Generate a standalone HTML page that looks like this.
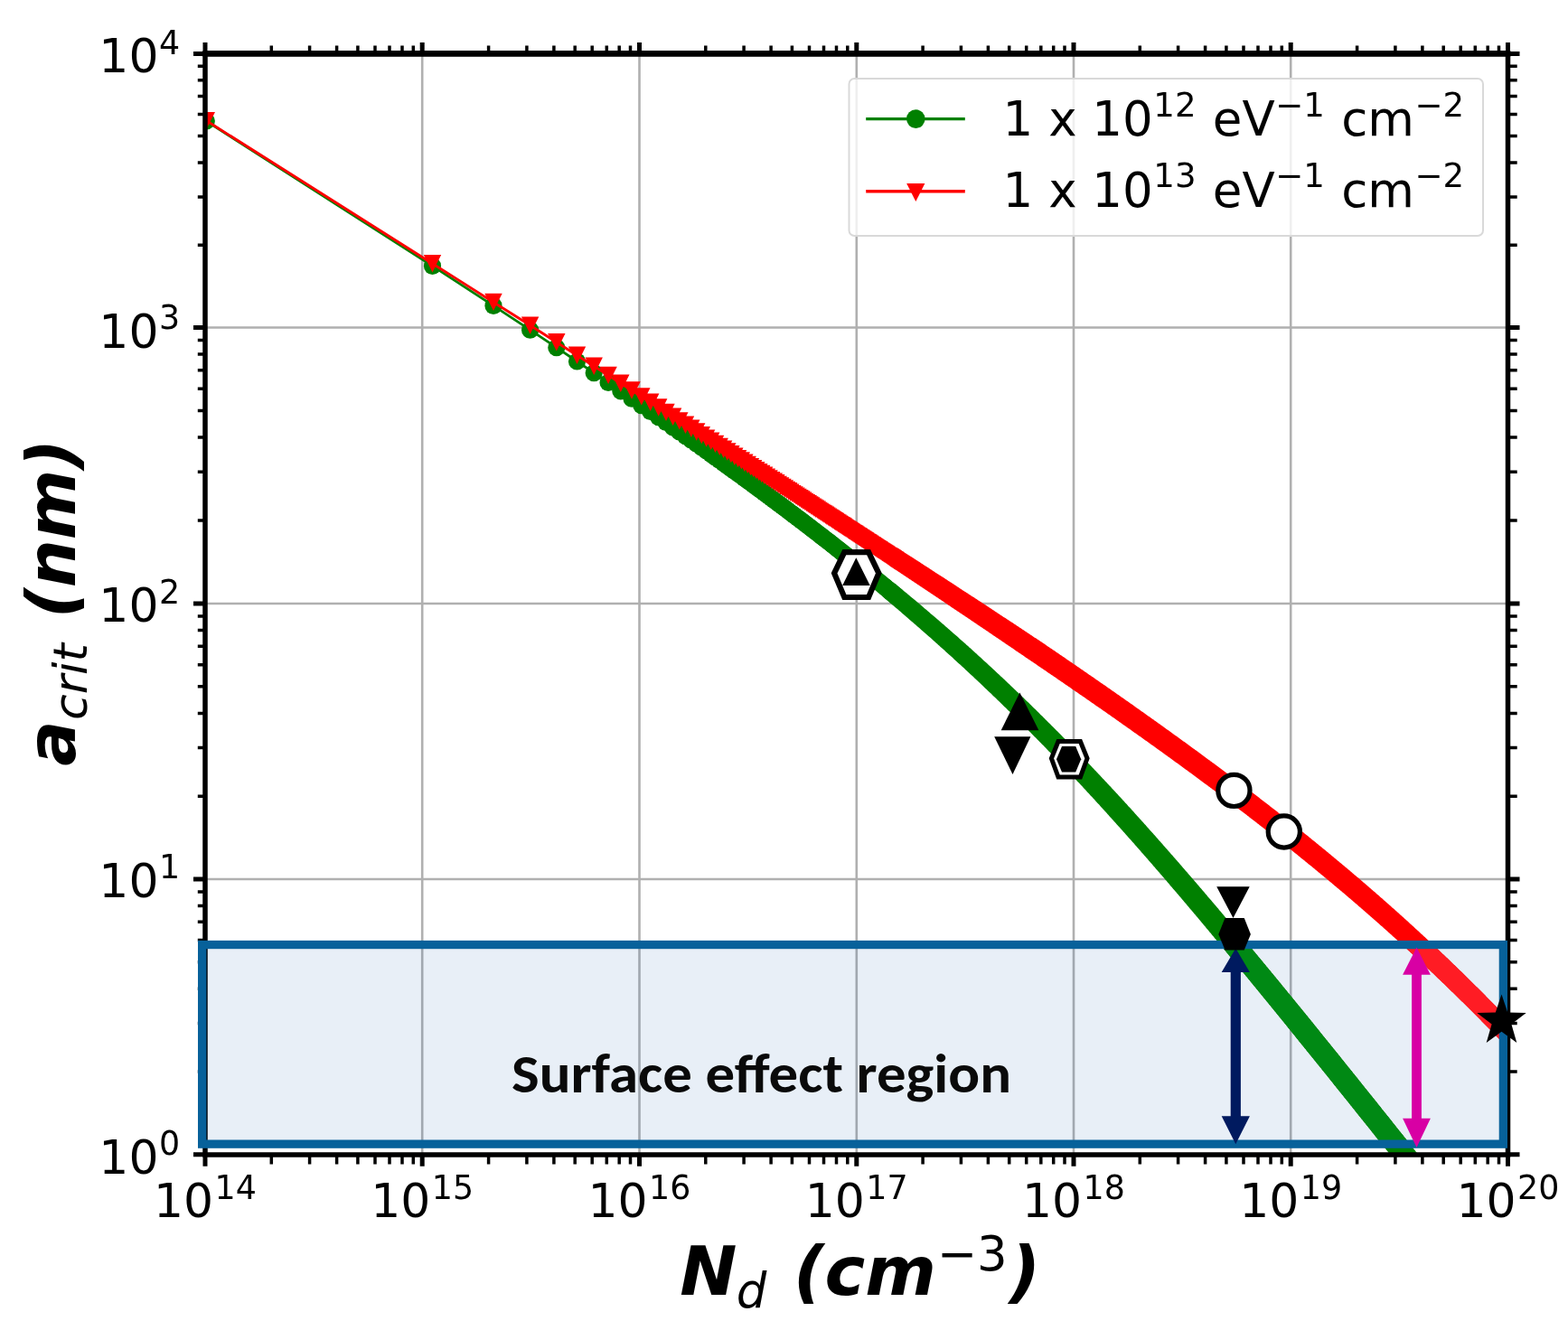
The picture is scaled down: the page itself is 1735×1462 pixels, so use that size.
<!DOCTYPE html>
<html><head><meta charset="utf-8"><title>acrit vs Nd</title><style>html,body{margin:0;padding:0;background:#fff;}svg{display:block;}</style></head><body>
<svg width="1735" height="1462" viewBox="0 0 1735 1462">
<defs><clipPath id="ax"><rect x="227.0" y="59.4" width="1441.5" height="1218.6"/></clipPath></defs>
<rect width="1735" height="1462" fill="#fff"/>
<path d="M467.2 59.4V1278.0M707.5 59.4V1278.0M947.8 59.4V1278.0M1188.0 59.4V1278.0M1428.2 59.4V1278.0M227.0 362.5H1668.5M227.0 668H1668.5M227.0 973H1668.5" stroke="#b0b0b0" stroke-width="2.6" fill="none"/>
<g clip-path="url(#ax)">
<polyline points="228.3,134.0 478.5,294.4 546.0,338.4 586.6,365.2 615.8,384.7 638.5,400.0 657.2,412.7 673.1,423.4 686.8,432.8 699.0,441.2 709.8,448.7 719.7,455.5 728.7,461.7 737.0,467.5 744.6,472.9 751.8,477.9 758.5,482.6 764.8,487.0 770.7,491.2 776.3,495.2 781.6,499.0 786.7,502.6 791.5,506.1 796.2,509.4 800.6,512.6 804.8,515.6 808.9,518.6 812.8,521.4 816.6,524.2 820.3,526.8 823.8,529.4 827.2,531.9 830.5,534.3 833.7,536.7 836.8,538.9 839.8,541.2 842.7,543.3 845.6,545.4 848.4,547.5 851.1,549.5 853.7,551.4 856.3,553.4 858.8,555.2 861.2,557.1 863.6,558.8 866.0,560.6 868.3,562.3 870.5,564.0 872.7,565.7 874.8,567.3 876.9,568.9 879.0,570.4 881.0,572.0 883.0,573.5 885.0,574.9 886.9,576.4 888.7,577.8 890.6,579.2 892.4,580.6 894.2,582.0 895.9,583.3 897.6,584.6 899.3,586.0 901.0,587.2 902.6,588.5 904.3,589.7 905.9,591.0 907.4,592.2 909.0,593.4 910.5,594.6 912.0,595.7 913.5,596.9 914.9,598.0 916.4,599.1 917.8,600.2 919.2,601.3 920.6,602.4 921.9,603.5 923.3,604.5 924.6,605.6 925.9,606.6 927.2,607.6 928.5,608.6 929.7,609.6 931.0,610.6 932.2,611.6 933.4,612.6 934.6,613.5 935.8,614.4 937.0,615.4 938.2,616.3 939.3,617.2 940.5,618.1 941.6,619.0 942.7,619.9 943.8,620.8 944.9,621.7 946.0,622.5 947.0,623.4 948.1,624.2 949.2,625.1 950.2,625.9 951.2,626.7 952.2,627.6 953.2,628.4 954.2,629.2 955.2,630.0 956.2,630.8 957.2,631.5 958.1,632.3 959.1,633.1 960.0,633.9 961.0,634.6 961.9,635.4 962.8,636.1 963.7,636.9 964.6,637.6 965.5,638.3 966.4,639.1 967.3,639.8 968.2,640.5 969.0,641.2 969.9,641.9 970.7,642.6 971.6,643.3 972.4,644.0 973.2,644.7 974.1,645.3 974.9,646.0 975.7,646.7 976.5,647.3 977.3,648.0 978.1,648.6 978.9,649.3 979.7,649.9 980.4,650.6 981.2,651.2 982.0,651.9 982.7,652.5 983.5,653.1 984.2,653.7 985.0,654.3 985.7,655.0 986.4,655.6 987.2,656.2 987.9,656.8 988.6,657.4 989.3,658.0 990.0,658.6 990.7,659.1 991.4,659.7" fill="none" stroke="#008000" stroke-width="2.8" stroke-linejoin="round"/>
<g fill="#008000"><circle cx="228.3" cy="134.0" r="9.6"/><circle cx="478.5" cy="294.4" r="9.6"/><circle cx="546.0" cy="338.4" r="9.6"/><circle cx="586.6" cy="365.2" r="9.6"/><circle cx="615.8" cy="384.7" r="9.6"/><circle cx="638.5" cy="400.0" r="9.6"/><circle cx="657.2" cy="412.7" r="9.6"/><circle cx="673.1" cy="423.4" r="9.6"/><circle cx="686.8" cy="432.8" r="9.6"/><circle cx="699.0" cy="441.2" r="9.6"/><circle cx="709.8" cy="448.7" r="9.6"/><circle cx="719.7" cy="455.5" r="9.6"/><circle cx="728.7" cy="461.7" r="9.6"/><circle cx="737.0" cy="467.5" r="9.6"/><circle cx="744.6" cy="472.9" r="9.6"/><circle cx="751.8" cy="477.9" r="9.6"/><circle cx="758.5" cy="482.6" r="9.6"/><circle cx="764.8" cy="487.0" r="9.6"/><circle cx="770.7" cy="491.2" r="9.6"/><circle cx="776.3" cy="495.2" r="9.6"/><circle cx="781.6" cy="499.0" r="9.6"/><circle cx="786.7" cy="502.6" r="9.6"/><circle cx="791.5" cy="506.1" r="9.6"/><circle cx="796.2" cy="509.4" r="9.6"/><circle cx="800.6" cy="512.6" r="9.6"/><circle cx="804.8" cy="515.6" r="9.6"/><circle cx="808.9" cy="518.6" r="9.6"/><circle cx="812.8" cy="521.4" r="9.6"/><circle cx="816.6" cy="524.2" r="9.6"/><circle cx="820.3" cy="526.8" r="9.6"/><circle cx="823.8" cy="529.4" r="9.6"/><circle cx="827.2" cy="531.9" r="9.6"/><circle cx="830.5" cy="534.3" r="9.6"/><circle cx="833.7" cy="536.7" r="9.6"/><circle cx="836.8" cy="538.9" r="9.6"/><circle cx="839.8" cy="541.2" r="9.6"/><circle cx="842.7" cy="543.3" r="9.6"/><circle cx="845.6" cy="545.4" r="9.6"/><circle cx="848.4" cy="547.5" r="9.6"/><circle cx="851.1" cy="549.5" r="9.6"/><circle cx="853.7" cy="551.4" r="9.6"/><circle cx="856.3" cy="553.4" r="9.6"/><circle cx="858.8" cy="555.2" r="9.6"/><circle cx="861.2" cy="557.1" r="9.6"/><circle cx="863.6" cy="558.8" r="9.6"/><circle cx="866.0" cy="560.6" r="9.6"/><circle cx="868.3" cy="562.3" r="9.6"/><circle cx="870.5" cy="564.0" r="9.6"/><circle cx="872.7" cy="565.7" r="9.6"/><circle cx="874.8" cy="567.3" r="9.6"/><circle cx="876.9" cy="568.9" r="9.6"/><circle cx="879.0" cy="570.4" r="9.6"/><circle cx="881.0" cy="572.0" r="9.6"/><circle cx="883.0" cy="573.5" r="9.6"/><circle cx="885.0" cy="574.9" r="9.6"/><circle cx="886.9" cy="576.4" r="9.6"/><circle cx="888.7" cy="577.8" r="9.6"/><circle cx="890.6" cy="579.2" r="9.6"/><circle cx="892.4" cy="580.6" r="9.6"/><circle cx="894.2" cy="582.0" r="9.6"/><circle cx="895.9" cy="583.3" r="9.6"/><circle cx="897.6" cy="584.6" r="9.6"/><circle cx="899.3" cy="586.0" r="9.6"/><circle cx="901.0" cy="587.2" r="9.6"/><circle cx="902.6" cy="588.5" r="9.6"/><circle cx="904.3" cy="589.7" r="9.6"/><circle cx="905.9" cy="591.0" r="9.6"/><circle cx="907.4" cy="592.2" r="9.6"/><circle cx="909.0" cy="593.4" r="9.6"/><circle cx="910.5" cy="594.6" r="9.6"/><circle cx="912.0" cy="595.7" r="9.6"/><circle cx="913.5" cy="596.9" r="9.6"/><circle cx="914.9" cy="598.0" r="9.6"/><circle cx="916.4" cy="599.1" r="9.6"/><circle cx="917.8" cy="600.2" r="9.6"/><circle cx="919.2" cy="601.3" r="9.6"/><circle cx="920.6" cy="602.4" r="9.6"/><circle cx="921.9" cy="603.5" r="9.6"/><circle cx="923.3" cy="604.5" r="9.6"/><circle cx="924.6" cy="605.6" r="9.6"/><circle cx="925.9" cy="606.6" r="9.6"/><circle cx="927.2" cy="607.6" r="9.6"/><circle cx="928.5" cy="608.6" r="9.6"/><circle cx="929.7" cy="609.6" r="9.6"/><circle cx="931.0" cy="610.6" r="9.6"/><circle cx="932.2" cy="611.6" r="9.6"/><circle cx="933.4" cy="612.6" r="9.6"/><circle cx="934.6" cy="613.5" r="9.6"/><circle cx="935.8" cy="614.4" r="9.6"/><circle cx="937.0" cy="615.4" r="9.6"/><circle cx="938.2" cy="616.3" r="9.6"/><circle cx="939.3" cy="617.2" r="9.6"/><circle cx="940.5" cy="618.1" r="9.6"/><circle cx="941.6" cy="619.0" r="9.6"/><circle cx="942.7" cy="619.9" r="9.6"/><circle cx="943.8" cy="620.8" r="9.6"/><circle cx="944.9" cy="621.7" r="9.6"/><circle cx="946.0" cy="622.5" r="9.6"/><circle cx="947.0" cy="623.4" r="9.6"/><circle cx="948.1" cy="624.2" r="9.6"/><circle cx="949.2" cy="625.1" r="9.6"/><circle cx="950.2" cy="625.9" r="9.6"/><circle cx="951.2" cy="626.7" r="9.6"/><circle cx="952.2" cy="627.6" r="9.6"/><circle cx="953.2" cy="628.4" r="9.6"/><circle cx="954.2" cy="629.2" r="9.6"/><circle cx="955.2" cy="630.0" r="9.6"/><circle cx="956.2" cy="630.8" r="9.6"/><circle cx="957.2" cy="631.5" r="9.6"/><circle cx="958.1" cy="632.3" r="9.6"/><circle cx="959.1" cy="633.1" r="9.6"/><circle cx="960.0" cy="633.9" r="9.6"/><circle cx="961.0" cy="634.6" r="9.6"/><circle cx="961.9" cy="635.4" r="9.6"/><circle cx="962.8" cy="636.1" r="9.6"/><circle cx="963.7" cy="636.9" r="9.6"/><circle cx="964.6" cy="637.6" r="9.6"/><circle cx="965.5" cy="638.3" r="9.6"/><circle cx="966.4" cy="639.1" r="9.6"/><circle cx="967.3" cy="639.8" r="9.6"/><circle cx="968.2" cy="640.5" r="9.6"/><circle cx="969.0" cy="641.2" r="9.6"/><circle cx="969.9" cy="641.9" r="9.6"/><circle cx="970.7" cy="642.6" r="9.6"/><circle cx="971.6" cy="643.3" r="9.6"/><circle cx="972.4" cy="644.0" r="9.6"/><circle cx="973.2" cy="644.7" r="9.6"/><circle cx="974.1" cy="645.3" r="9.6"/><circle cx="974.9" cy="646.0" r="9.6"/><circle cx="975.7" cy="646.7" r="9.6"/><circle cx="976.5" cy="647.3" r="9.6"/><circle cx="977.3" cy="648.0" r="9.6"/><circle cx="978.1" cy="648.6" r="9.6"/><circle cx="978.9" cy="649.3" r="9.6"/><circle cx="979.7" cy="649.9" r="9.6"/><circle cx="980.4" cy="650.6" r="9.6"/><circle cx="981.2" cy="651.2" r="9.6"/><circle cx="982.0" cy="651.9" r="9.6"/><circle cx="982.7" cy="652.5" r="9.6"/><circle cx="983.5" cy="653.1" r="9.6"/><circle cx="984.2" cy="653.7" r="9.6"/><circle cx="985.0" cy="654.3" r="9.6"/><circle cx="985.7" cy="655.0" r="9.6"/><circle cx="986.4" cy="655.6" r="9.6"/><circle cx="987.2" cy="656.2" r="9.6"/><circle cx="987.9" cy="656.8" r="9.6"/><circle cx="988.6" cy="657.4" r="9.6"/><circle cx="989.3" cy="658.0" r="9.6"/><circle cx="990.0" cy="658.6" r="9.6"/><circle cx="990.7" cy="659.1" r="9.6"/></g>
<polygon points="977.9,661.3 979.4,662.6 980.8,663.8 982.2,665.0 983.7,666.2 985.0,667.4 986.4,668.5 987.8,669.7 989.1,670.8 990.4,671.9 991.7,673.0 993.0,674.1 994.3,675.2 995.5,676.3 996.8,677.3 998.0,678.4 999.2,679.4 1000.4,680.5 1001.6,681.5 1002.7,682.5 1003.9,683.5 1005.0,684.5 1006.7,685.9 1008.4,687.4 1010.0,688.8 1011.6,690.2 1013.2,691.6 1014.8,692.9 1016.3,694.3 1017.8,695.6 1019.3,696.9 1020.8,698.2 1022.2,699.5 1023.7,700.7 1025.1,702.0 1026.5,703.2 1027.9,704.4 1029.2,705.6 1030.6,706.8 1031.9,708.0 1033.2,709.2 1034.5,710.3 1035.7,711.5 1037.0,712.6 1038.2,713.7 1039.5,714.8 1040.7,715.9 1041.9,717.0 1043.1,718.0 1044.2,719.1 1045.4,720.1 1046.5,721.2 1047.7,722.2 1048.8,723.2 1049.9,724.2 1051.4,725.5 1052.8,726.8 1054.2,728.1 1055.6,729.4 1057.0,730.7 1058.4,731.9 1059.7,733.2 1061.1,734.4 1062.4,735.6 1063.7,736.8 1065.0,738.0 1066.2,739.1 1067.5,740.3 1068.7,741.4 1069.9,742.6 1071.1,743.7 1072.3,744.8 1073.5,745.9 1074.7,747.0 1075.8,748.1 1077.0,749.1 1078.1,750.2 1079.2,751.2 1080.3,752.3 1081.4,753.3 1082.7,754.6 1084.1,755.8 1085.4,757.0 1086.7,758.3 1088.0,759.5 1089.2,760.7 1090.5,761.9 1091.7,763.1 1092.9,764.2 1094.2,765.4 1095.3,766.5 1096.5,767.6 1097.7,768.8 1098.8,769.9 1100.0,771.0 1101.1,772.0 1102.2,773.1 1103.3,774.2 1104.4,775.2 1105.5,776.3 1106.8,777.5 1108.0,778.8 1109.3,780.0 1110.5,781.2 1111.8,782.4 1113.0,783.6 1114.2,784.7 1115.3,785.9 1116.5,787.0 1117.7,788.1 1118.8,789.3 1119.9,790.4 1121.0,791.5 1122.1,792.6 1123.2,793.7 1124.3,794.7 1125.4,795.8 1126.6,797.0 1127.8,798.2 1129.0,799.4 1130.2,800.6 1131.4,801.8 1132.6,802.9 1133.7,804.1 1134.9,805.2 1136.0,806.4 1137.1,807.5 1138.2,808.6 1139.3,809.7 1140.4,810.8 1141.5,811.9 1142.5,812.9 1143.7,814.2 1144.9,815.4 1146.1,816.5 1147.2,817.7 1148.4,818.9 1149.5,820.0 1150.6,821.2 1151.7,822.3 1152.8,823.4 1153.9,824.5 1155.0,825.6 1156.0,826.7 1157.1,827.8 1158.2,829.0 1159.4,830.2 1160.5,831.4 1161.7,832.5 1162.8,833.7 1163.9,834.9 1165.0,836.0 1166.1,837.1 1167.1,838.2 1168.2,839.3 1169.3,840.4 1170.3,841.5 1171.4,842.7 1172.6,843.9 1173.7,845.1 1174.8,846.2 1175.9,847.4 1177.0,848.5 1178.0,849.6 1179.1,850.8 1180.2,851.9 1181.2,853.0 1182.2,854.1 1183.3,855.3 1184.5,856.4 1185.6,857.6 1186.6,858.7 1187.7,859.9 1188.8,861.0 1189.8,862.1 1190.9,863.3 1191.9,864.4 1192.9,865.5 1194.0,866.6 1195.1,867.8 1196.2,869.0 1197.3,870.1 1198.3,871.3 1199.4,872.4 1200.4,873.5 1201.4,874.6 1202.4,875.7 1203.5,876.9 1204.6,878.1 1205.7,879.2 1206.7,880.4 1207.8,881.5 1208.8,882.6 1209.8,883.7 1210.9,884.8 1211.9,886.0 1213.0,887.2 1214.1,888.4 1215.1,889.5 1216.2,890.6 1217.2,891.8 1218.2,892.9 1219.2,894.0 1220.3,895.2 1221.3,896.3 1222.4,897.5 1223.4,898.6 1224.5,899.8 1225.5,900.9 1226.5,902.0 1227.5,903.2 1228.6,904.4 1229.6,905.5 1230.7,906.7 1231.7,907.8 1232.7,908.9 1233.7,910.0 1234.8,911.2 1235.8,912.4 1236.8,913.5 1237.9,914.7 1238.9,915.8 1239.9,916.9 1240.9,918.1 1242.0,919.3 1243.0,920.4 1244.0,921.6 1245.1,922.7 1246.1,923.9 1247.1,925.0 1248.1,926.2 1249.2,927.4 1250.2,928.5 1251.2,929.6 1252.2,930.8 1253.2,931.9 1254.3,933.1 1255.3,934.3 1256.3,935.4 1257.3,936.5 1258.3,937.7 1259.3,938.8 1260.3,940.0 1261.3,941.1 1262.3,942.3 1263.3,943.4 1264.3,944.6 1265.4,945.7 1266.4,946.9 1267.4,948.0 1268.4,949.2 1269.4,950.3 1270.4,951.5 1271.4,952.7 1272.4,953.8 1273.4,954.9 1274.4,956.1 1275.4,957.3 1276.4,958.4 1277.4,959.6 1278.4,960.7 1279.4,961.9 1280.4,963.1 1281.4,964.2 1282.4,965.3 1283.4,966.5 1284.4,967.7 1285.4,968.8 1286.4,970.0 1287.4,971.1 1288.4,972.3 1289.4,973.4 1290.4,974.6 1291.4,975.8 1292.4,976.9 1293.4,978.1 1294.3,979.2 1295.3,980.4 1296.3,981.6 1297.3,982.7 1298.3,983.9 1299.3,985.0 1300.3,986.2 1301.3,987.3 1302.2,988.5 1303.2,989.6 1304.2,990.8 1305.2,991.9 1306.2,993.1 1307.2,994.3 1308.2,995.4 1309.1,996.6 1310.1,997.7 1311.1,998.9 1312.1,1000.1 1313.1,1001.2 1314.1,1002.4 1315.0,1003.5 1316.0,1004.7 1317.0,1005.9 1318.0,1007.0 1319.0,1008.2 1319.9,1009.3 1320.9,1010.5 1321.9,1011.7 1322.9,1012.8 1323.8,1014.0 1324.8,1015.1 1325.8,1016.3 1326.8,1017.4 1327.7,1018.6 1328.7,1019.8 1329.7,1020.9 1330.6,1022.1 1331.6,1023.2 1332.6,1024.4 1333.6,1025.6 1334.5,1026.7 1335.5,1027.9 1336.5,1029.1 1337.5,1030.2 1338.4,1031.4 1339.4,1032.5 1340.4,1033.7 1341.3,1034.9 1342.3,1036.0 1343.3,1037.2 1344.2,1038.4 1345.2,1039.5 1346.2,1040.7 1347.2,1041.9 1348.1,1043.0 1349.1,1044.2 1350.0,1045.3 1351.0,1046.5 1352.0,1047.7 1353.0,1048.8 1353.9,1050.0 1354.9,1051.2 1355.9,1052.3 1356.8,1053.5 1357.8,1054.7 1358.7,1055.8 1359.7,1057.0 1360.7,1058.2 1361.6,1059.3 1362.6,1060.5 1363.6,1061.7 1364.5,1062.8 1365.5,1064.0 1366.5,1065.2 1367.4,1066.3 1368.4,1067.5 1369.3,1068.7 1370.3,1069.8 1371.3,1071.0 1372.2,1072.2 1373.2,1073.4 1374.1,1074.5 1375.1,1075.7 1376.1,1076.9 1377.0,1078.0 1378.0,1079.2 1378.9,1080.4 1379.9,1081.5 1380.9,1082.7 1381.8,1083.9 1382.8,1085.0 1383.7,1086.2 1384.7,1087.4 1385.6,1088.5 1386.6,1089.7 1387.5,1090.9 1388.5,1092.0 1389.5,1093.2 1390.4,1094.4 1391.4,1095.5 1392.3,1096.7 1393.3,1097.9 1394.2,1099.1 1395.2,1100.2 1396.1,1101.4 1397.1,1102.6 1398.0,1103.7 1399.0,1104.9 1400.0,1106.1 1400.9,1107.3 1401.9,1108.4 1402.8,1109.6 1403.8,1110.8 1404.7,1111.9 1405.7,1113.1 1406.6,1114.3 1407.6,1115.5 1408.5,1116.6 1409.5,1117.8 1410.4,1119.0 1411.4,1120.1 1412.3,1121.3 1413.3,1122.5 1414.2,1123.6 1415.2,1124.8 1416.1,1126.0 1417.1,1127.1 1418.0,1128.3 1419.0,1129.5 1419.9,1130.6 1420.9,1131.8 1421.8,1133.0 1422.8,1134.1 1423.7,1135.3 1424.7,1136.5 1425.6,1137.7 1426.6,1138.8 1427.5,1140.0 1428.5,1141.2 1429.4,1142.3 1430.4,1143.5 1431.3,1144.7 1432.3,1145.8 1433.2,1147.0 1434.2,1148.2 1435.1,1149.4 1436.1,1150.5 1437.0,1151.7 1437.9,1152.9 1438.9,1154.0 1439.8,1155.2 1440.8,1156.4 1441.7,1157.5 1442.7,1158.7 1443.6,1159.9 1444.6,1161.0 1445.5,1162.2 1446.4,1163.4 1447.4,1164.5 1448.3,1165.7 1449.3,1166.9 1450.2,1168.0 1451.2,1169.2 1452.1,1170.4 1453.1,1171.6 1454.0,1172.7 1455.0,1173.9 1455.9,1175.1 1456.8,1176.2 1457.8,1177.4 1458.7,1178.6 1459.7,1179.8 1460.6,1180.9 1461.6,1182.1 1462.5,1183.3 1463.4,1184.4 1464.4,1185.6 1465.3,1186.8 1466.3,1188.0 1467.2,1189.1 1468.2,1190.3 1469.1,1191.5 1470.0,1192.6 1471.0,1193.8 1471.9,1195.0 1472.9,1196.2 1473.8,1197.3 1474.8,1198.5 1475.7,1199.7 1476.6,1200.9 1477.6,1202.0 1478.5,1203.2 1479.5,1204.4 1480.4,1205.5 1481.3,1206.7 1482.3,1207.9 1483.2,1209.1 1484.2,1210.2 1485.1,1211.4 1486.1,1212.6 1487.0,1213.8 1487.9,1214.9 1488.9,1216.1 1489.8,1217.3 1490.8,1218.5 1491.7,1219.6 1492.6,1220.8 1493.6,1222.0 1494.5,1223.2 1495.5,1224.3 1496.4,1225.5 1497.3,1226.7 1498.3,1227.8 1499.2,1229.0 1500.2,1230.2 1501.1,1231.4 1502.0,1232.5 1503.0,1233.7 1503.9,1234.9 1504.8,1236.1 1505.8,1237.2 1506.7,1238.4 1507.7,1239.6 1508.6,1240.8 1509.5,1241.9 1510.5,1243.1 1511.4,1244.3 1512.4,1245.4 1513.3,1246.6 1514.2,1247.8 1515.2,1249.0 1516.1,1250.1 1517.0,1251.3 1518.0,1252.5 1518.9,1253.7 1519.9,1254.8 1520.8,1256.0 1521.7,1257.2 1522.7,1258.4 1523.6,1259.5 1524.5,1260.7 1525.5,1261.9 1526.4,1263.1 1527.4,1264.2 1528.3,1265.4 1529.2,1266.6 1530.2,1267.8 1531.1,1268.9 1532.0,1270.1 1533.0,1271.3 1533.9,1272.5 1534.8,1273.6 1535.8,1274.8 1536.7,1276.0 1537.7,1277.2 1538.6,1278.3 1539.5,1279.5 1540.5,1280.7 1541.4,1281.9 1542.3,1283.0 1543.3,1284.2 1544.2,1285.4 1545.1,1286.6 1546.1,1287.7 1547.0,1288.9 1547.9,1290.1 1548.9,1291.3 1549.8,1292.4 1550.7,1293.6 1551.7,1294.8 1552.6,1296.0 1553.6,1297.1 1554.5,1298.3 1555.4,1299.5 1556.4,1300.7 1557.3,1301.8 1558.2,1303.0 1559.2,1304.2 1560.1,1305.4 1561.0,1306.6 1562.0,1307.7 1562.9,1308.9 1563.8,1310.1 1564.8,1311.3 1565.7,1312.4 1566.6,1313.6 1567.6,1314.8 1568.5,1316.0 1569.4,1317.1 1570.4,1318.3 1571.3,1319.5 1572.3,1320.7 1573.2,1321.8 1574.1,1323.0 1575.1,1324.2 1576.0,1325.4 1576.9,1326.5 1577.9,1327.7 1578.8,1328.9 1579.7,1330.1 1580.7,1331.2 1581.6,1332.4 1582.5,1333.6 1583.5,1334.8 1584.4,1335.9 1585.3,1337.1 1586.3,1338.3 1587.2,1339.5 1588.1,1340.7 1589.1,1341.8 1590.0,1343.0 1590.9,1344.2 1591.8,1345.4 1592.8,1346.5 1593.7,1347.7 1594.6,1348.9 1595.6,1350.1 1596.5,1351.2 1597.4,1352.4 1598.4,1353.6 1599.3,1354.8 1600.2,1355.9 1601.2,1357.1 1602.1,1358.3 1603.0,1359.5 1604.0,1360.6 1604.9,1361.8 1605.8,1363.0 1606.8,1364.2 1607.7,1365.3 1608.6,1366.5 1609.6,1367.7 1610.5,1368.9 1611.4,1370.1 1612.4,1371.2 1613.3,1372.4 1614.2,1373.6 1615.2,1374.8 1616.1,1375.9 1617.0,1377.1 1618.0,1378.3 1618.9,1379.5 1619.8,1380.6 1620.8,1381.8 1621.7,1383.0 1622.6,1384.2 1623.5,1385.3 1624.5,1386.5 1625.4,1387.7 1626.3,1388.9 1627.3,1390.1 1628.2,1391.2 1629.1,1392.4 1630.1,1393.6 1631.0,1394.8 1631.9,1395.9 1632.9,1397.1 1633.8,1398.3 1634.7,1399.5 1635.7,1400.6 1636.6,1401.8 1637.5,1403.0 1638.5,1404.2 1639.4,1405.4 1640.3,1406.5 1641.2,1407.7 1642.2,1408.9 1643.1,1410.1 1644.0,1411.2 1645.0,1412.4 1645.9,1413.6 1646.8,1414.8 1647.8,1415.9 1648.7,1417.1 1649.6,1418.3 1650.6,1419.5 1651.5,1420.7 1652.4,1421.8 1653.4,1423.0 1654.3,1424.2 1655.2,1425.4 1656.1,1426.5 1657.1,1427.7 1658.0,1428.9 1658.9,1430.1 1659.9,1431.2 1679.0,1416.1 1678.1,1414.9 1677.1,1413.8 1676.2,1412.6 1675.3,1411.4 1674.4,1410.2 1673.4,1409.0 1672.5,1407.9 1671.6,1406.7 1670.6,1405.5 1669.7,1404.3 1668.8,1403.2 1667.8,1402.0 1666.9,1400.8 1666.0,1399.6 1665.0,1398.5 1664.1,1397.3 1663.2,1396.1 1662.2,1394.9 1661.3,1393.7 1660.4,1392.6 1659.4,1391.4 1658.5,1390.2 1657.6,1389.0 1656.7,1387.9 1655.7,1386.7 1654.8,1385.5 1653.9,1384.3 1652.9,1383.1 1652.0,1382.0 1651.1,1380.8 1650.1,1379.6 1649.2,1378.4 1648.3,1377.3 1647.3,1376.1 1646.4,1374.9 1645.5,1373.7 1644.5,1372.6 1643.6,1371.4 1642.7,1370.2 1641.7,1369.0 1640.8,1367.8 1639.9,1366.7 1638.9,1365.5 1638.0,1364.3 1637.1,1363.1 1636.1,1362.0 1635.2,1360.8 1634.3,1359.6 1633.4,1358.4 1632.4,1357.3 1631.5,1356.1 1630.6,1354.9 1629.6,1353.7 1628.7,1352.5 1627.8,1351.4 1626.8,1350.2 1625.9,1349.0 1625.0,1347.8 1624.0,1346.7 1623.1,1345.5 1622.2,1344.3 1621.2,1343.1 1620.3,1342.0 1619.4,1340.8 1618.4,1339.6 1617.5,1338.4 1616.6,1337.3 1615.6,1336.1 1614.7,1334.9 1613.8,1333.7 1612.8,1332.5 1611.9,1331.4 1611.0,1330.2 1610.0,1329.0 1609.1,1327.8 1608.2,1326.7 1607.2,1325.5 1606.3,1324.3 1605.4,1323.1 1604.4,1322.0 1603.5,1320.8 1602.6,1319.6 1601.6,1318.4 1600.7,1317.2 1599.8,1316.1 1598.8,1314.9 1597.9,1313.7 1597.0,1312.5 1596.0,1311.4 1595.1,1310.2 1594.2,1309.0 1593.2,1307.8 1592.3,1306.7 1591.4,1305.5 1590.4,1304.3 1589.5,1303.1 1588.6,1302.0 1587.6,1300.8 1586.7,1299.6 1585.7,1298.4 1584.8,1297.3 1583.9,1296.1 1582.9,1294.9 1582.0,1293.7 1581.1,1292.5 1580.1,1291.4 1579.2,1290.2 1578.3,1289.0 1577.3,1287.8 1576.4,1286.7 1575.5,1285.5 1574.5,1284.3 1573.6,1283.1 1572.6,1281.9 1571.7,1280.8 1570.8,1279.6 1569.8,1278.4 1568.9,1277.2 1568.0,1276.1 1567.0,1274.9 1566.1,1273.7 1565.2,1272.5 1564.2,1271.4 1563.3,1270.2 1562.4,1269.0 1561.4,1267.8 1560.5,1266.7 1559.5,1265.5 1558.6,1264.3 1557.7,1263.1 1556.7,1262.0 1555.8,1260.8 1554.9,1259.6 1553.9,1258.4 1553.0,1257.3 1552.1,1256.1 1551.1,1254.9 1550.2,1253.7 1549.2,1252.6 1548.3,1251.4 1547.4,1250.2 1546.4,1249.0 1545.5,1247.9 1544.6,1246.7 1543.6,1245.5 1542.7,1244.3 1541.7,1243.2 1540.8,1242.0 1539.9,1240.8 1538.9,1239.6 1538.0,1238.5 1537.1,1237.3 1536.1,1236.1 1535.2,1234.9 1534.2,1233.7 1533.3,1232.6 1532.4,1231.4 1531.4,1230.2 1530.5,1229.0 1529.5,1227.9 1528.6,1226.7 1527.7,1225.5 1526.7,1224.3 1525.8,1223.2 1524.8,1222.0 1523.9,1220.8 1523.0,1219.6 1522.0,1218.5 1521.1,1217.3 1520.1,1216.1 1519.2,1214.9 1518.3,1213.8 1517.3,1212.6 1516.4,1211.4 1515.4,1210.2 1514.5,1209.1 1513.6,1207.9 1512.6,1206.7 1511.7,1205.5 1510.7,1204.4 1509.8,1203.2 1508.9,1202.0 1507.9,1200.9 1507.0,1199.7 1506.0,1198.5 1505.1,1197.3 1504.1,1196.2 1503.2,1195.0 1502.3,1193.8 1501.3,1192.6 1500.4,1191.5 1499.4,1190.3 1498.5,1189.1 1497.5,1187.9 1496.6,1186.8 1495.7,1185.6 1494.7,1184.4 1493.8,1183.2 1492.8,1182.1 1491.9,1180.9 1490.9,1179.7 1490.0,1178.5 1489.1,1177.4 1488.1,1176.2 1487.2,1175.0 1486.2,1173.8 1485.3,1172.7 1484.3,1171.5 1483.4,1170.3 1482.5,1169.1 1481.5,1168.0 1480.6,1166.8 1479.6,1165.6 1478.7,1164.5 1477.7,1163.3 1476.8,1162.1 1475.8,1160.9 1474.9,1159.8 1473.9,1158.6 1473.0,1157.4 1472.1,1156.2 1471.1,1155.1 1470.2,1153.9 1469.2,1152.7 1468.3,1151.5 1467.3,1150.4 1466.4,1149.2 1465.4,1148.0 1464.5,1146.9 1463.5,1145.7 1462.6,1144.5 1461.6,1143.4 1460.7,1142.2 1459.8,1141.0 1458.8,1139.8 1457.9,1138.7 1456.9,1137.5 1456.0,1136.3 1455.0,1135.2 1454.1,1134.0 1453.1,1132.8 1452.2,1131.6 1451.2,1130.5 1450.3,1129.3 1449.3,1128.1 1448.4,1127.0 1447.4,1125.8 1446.5,1124.6 1445.5,1123.4 1444.6,1122.3 1443.6,1121.1 1442.7,1119.9 1441.7,1118.8 1440.8,1117.6 1439.8,1116.4 1438.9,1115.3 1437.9,1114.1 1436.9,1112.9 1436.0,1111.7 1435.0,1110.6 1434.1,1109.4 1433.1,1108.2 1432.2,1107.1 1431.2,1105.9 1430.3,1104.7 1429.3,1103.5 1428.4,1102.4 1427.4,1101.2 1426.5,1100.0 1425.5,1098.9 1424.5,1097.7 1423.6,1096.5 1422.6,1095.4 1421.7,1094.2 1420.7,1093.0 1419.7,1091.9 1418.8,1090.7 1417.8,1089.5 1416.9,1088.3 1415.9,1087.2 1414.9,1086.0 1414.0,1084.8 1413.0,1083.7 1412.0,1082.5 1411.1,1081.3 1410.1,1080.2 1409.2,1079.0 1408.2,1077.8 1407.2,1076.7 1406.3,1075.5 1405.3,1074.3 1404.3,1073.2 1403.4,1072.0 1402.4,1070.8 1401.4,1069.7 1400.5,1068.5 1399.5,1067.3 1398.5,1066.2 1397.6,1065.0 1396.6,1063.8 1395.7,1062.7 1394.7,1061.5 1393.7,1060.3 1392.7,1059.2 1391.8,1058.0 1390.8,1056.8 1389.8,1055.7 1388.9,1054.5 1387.9,1053.3 1386.9,1052.2 1386.0,1051.0 1385.0,1049.8 1384.0,1048.7 1383.0,1047.5 1382.1,1046.3 1381.1,1045.2 1380.1,1044.0 1379.1,1042.8 1378.2,1041.7 1377.2,1040.5 1376.2,1039.3 1375.2,1038.2 1374.3,1037.0 1373.3,1035.8 1372.3,1034.7 1371.4,1033.5 1370.4,1032.3 1369.4,1031.2 1368.4,1030.0 1367.4,1028.8 1366.5,1027.7 1365.5,1026.5 1364.5,1025.4 1363.5,1024.2 1362.6,1023.0 1361.6,1021.9 1360.6,1020.7 1359.6,1019.5 1358.6,1018.4 1357.7,1017.2 1356.7,1016.0 1355.7,1014.9 1354.7,1013.7 1353.7,1012.6 1352.8,1011.4 1351.8,1010.2 1350.8,1009.1 1349.8,1007.9 1348.8,1006.7 1347.9,1005.6 1346.9,1004.4 1345.9,1003.3 1344.9,1002.1 1343.9,1001.0 1342.9,999.8 1342.0,998.7 1341.0,997.5 1340.0,996.3 1339.0,995.2 1338.0,994.0 1337.0,992.9 1336.0,991.7 1335.1,990.6 1334.1,989.4 1333.1,988.2 1332.1,987.1 1331.1,985.9 1330.1,984.7 1329.1,983.6 1328.1,982.4 1327.1,981.3 1326.1,980.1 1325.1,979.0 1324.1,977.8 1323.1,976.6 1322.1,975.5 1321.1,974.3 1320.1,973.1 1319.1,972.0 1318.2,970.9 1317.2,969.7 1316.1,968.5 1315.2,967.4 1314.2,966.2 1313.2,965.1 1312.1,963.9 1311.1,962.7 1310.1,961.6 1309.1,960.4 1308.1,959.3 1307.1,958.1 1306.1,957.0 1305.1,955.8 1304.1,954.6 1303.1,953.5 1302.1,952.3 1301.1,951.2 1300.1,950.0 1299.1,948.9 1298.1,947.7 1297.1,946.6 1296.0,945.4 1295.0,944.2 1294.0,943.1 1293.0,941.9 1292.0,940.8 1290.9,939.6 1289.9,938.4 1288.9,937.3 1287.9,936.2 1286.9,935.0 1285.9,933.8 1284.9,932.7 1283.9,931.5 1282.8,930.4 1281.8,929.2 1280.8,928.0 1279.8,926.9 1278.8,925.8 1277.7,924.6 1276.7,923.5 1275.7,922.3 1274.7,921.2 1273.6,920.0 1272.6,918.9 1271.6,917.7 1270.5,916.6 1269.5,915.4 1268.5,914.2 1267.5,913.1 1266.4,912.0 1265.4,910.8 1264.3,909.6 1263.3,908.4 1262.3,907.3 1261.2,906.2 1260.2,905.0 1259.2,903.9 1258.1,902.7 1257.0,901.5 1256.0,900.4 1255.0,899.3 1254.0,898.1 1252.9,897.0 1251.9,895.8 1250.8,894.6 1249.8,893.5 1248.7,892.4 1247.7,891.2 1246.7,890.1 1245.6,888.9 1244.5,887.8 1243.5,886.6 1242.4,885.5 1241.4,884.3 1240.4,883.2 1239.3,882.1 1238.2,880.9 1237.2,879.7 1236.1,878.6 1235.0,877.4 1234.0,876.3 1233.0,875.2 1231.9,874.1 1230.8,872.9 1229.8,871.8 1228.7,870.6 1227.6,869.4 1226.5,868.3 1225.5,867.2 1224.5,866.0 1223.4,864.9 1222.3,863.8 1221.2,862.6 1220.1,861.4 1219.0,860.3 1218.0,859.2 1217.0,858.0 1215.9,856.9 1214.8,855.8 1213.8,854.7 1212.7,853.5 1211.6,852.4 1210.5,851.2 1209.3,850.0 1208.3,848.9 1207.3,847.8 1206.2,846.7 1205.1,845.6 1204.0,844.4 1203.0,843.3 1201.9,842.1 1200.7,841.0 1199.6,839.8 1198.5,838.6 1197.4,837.5 1196.4,836.4 1195.3,835.3 1194.2,834.2 1193.1,833.1 1192.0,831.9 1190.9,830.8 1189.8,829.6 1188.6,828.4 1187.5,827.2 1186.3,826.0 1185.3,825.0 1184.2,823.9 1183.1,822.8 1182.0,821.6 1180.9,820.5 1179.8,819.4 1178.7,818.2 1177.6,817.1 1176.4,815.9 1175.3,814.7 1174.1,813.5 1172.9,812.3 1171.8,811.2 1170.7,810.1 1169.6,809.0 1168.5,807.9 1167.4,806.8 1166.3,805.7 1165.2,804.5 1164.0,803.4 1162.9,802.2 1161.7,801.0 1160.5,799.9 1159.3,798.7 1158.1,797.4 1157.0,796.4 1155.9,795.3 1154.8,794.2 1153.7,793.1 1152.6,792.0 1151.4,790.9 1150.3,789.7 1149.1,788.6 1148.0,787.4 1146.8,786.3 1145.6,785.1 1144.4,783.9 1143.1,782.7 1141.9,781.5 1140.7,780.3 1139.6,779.2 1138.5,778.1 1137.3,777.1 1136.2,776.0 1135.1,774.9 1133.9,773.8 1132.8,772.6 1131.6,771.5 1130.4,770.4 1129.2,769.2 1128.0,768.0 1126.8,766.8 1125.5,765.7 1124.3,764.5 1123.0,763.2 1121.7,762.0 1120.4,760.8 1119.3,759.7 1118.2,758.7 1117.1,757.6 1115.9,756.5 1114.8,755.4 1113.6,754.3 1112.5,753.2 1111.3,752.1 1110.1,751.0 1108.9,749.8 1107.6,748.7 1106.4,747.5 1105.1,746.3 1103.9,745.2 1102.6,744.0 1101.3,742.7 1100.0,741.5 1098.6,740.3 1097.3,739.0 1095.9,737.7 1094.8,736.7 1093.7,735.7 1092.5,734.6 1091.4,733.6 1090.2,732.5 1089.0,731.4 1087.9,730.4 1086.7,729.3 1085.4,728.1 1084.2,727.0 1083.0,725.9 1081.7,724.8 1080.5,723.6 1079.2,722.4 1077.9,721.2 1076.5,720.1 1075.2,718.8 1073.9,717.6 1072.5,716.4 1071.1,715.1 1069.7,713.9 1068.3,712.6 1066.8,711.3 1065.4,710.0 1063.9,708.7 1062.7,707.7 1061.6,706.7 1060.4,705.6 1059.3,704.6 1058.1,703.6 1056.9,702.5 1055.7,701.4 1054.5,700.4 1053.2,699.3 1052.0,698.2 1050.7,697.1 1049.4,696.0 1048.1,694.8 1046.8,693.7 1045.5,692.5 1044.2,691.3 1042.8,690.2 1041.4,689.0 1040.0,687.8 1038.6,686.5 1037.1,685.3 1035.7,684.0 1034.2,682.8 1032.7,681.5 1031.2,680.2 1029.6,678.9 1028.1,677.5 1026.5,676.2 1024.9,674.8 1023.2,673.4 1021.6,672.0 1019.9,670.5 1018.1,669.1 1017.0,668.1 1015.8,667.1 1014.6,666.1 1013.4,665.1 1012.2,664.1 1011.0,663.1 1009.7,662.0 1008.5,661.0 1007.2,659.9 1005.9,658.8 1004.6,657.7 1003.3,656.6 1001.9,655.5 1000.6,654.4 999.2,653.3 997.8,652.1 996.4,650.9 995.0,649.8 993.5,648.6 992.0,647.3 990.6,646.1" fill="#008000"/><circle cx="984.2" cy="653.7" r="9.9" fill="#008000"/>
<polyline points="228.3,133.6 478.5,291.7 546.0,334.4 586.6,360.1 615.8,378.7 638.5,393.3 657.2,405.2 673.1,415.4 686.8,424.2 699.0,432.0 709.8,438.9 719.7,445.3 728.7,451.0 737.0,456.4 744.6,461.3 751.8,465.9 758.5,470.2 764.8,474.2 770.7,478.0 776.3,481.6 781.6,485.1 786.7,488.3 791.5,491.4 796.2,494.4 800.6,497.3 804.8,500.0 808.9,502.6 812.8,505.2 816.6,507.6 820.3,509.9 823.8,512.2 827.2,514.4 830.5,516.6 833.7,518.6 836.8,520.6 839.8,522.6 842.7,524.5 845.6,526.3 848.4,528.1 851.1,529.9 853.7,531.6 856.3,533.2 858.8,534.8 861.2,536.4 863.6,538.0 866.0,539.5 868.3,541.0 870.5,542.4 872.7,543.8 874.8,545.2 876.9,546.6 879.0,547.9 881.0,549.2 883.0,550.5 885.0,551.8 886.9,553.0 888.7,554.2 890.6,555.4 892.4,556.6 894.2,557.8 895.9,558.9 897.6,560.0 899.3,561.1 901.0,562.2 902.6,563.3 904.3,564.3 905.9,565.4 907.4,566.4 909.0,567.4 910.5,568.4 912.0,569.3 913.5,570.3 914.9,571.3 916.4,572.2 917.8,573.1 919.2,574.0 920.6,574.9 921.9,575.8 923.3,576.7 924.6,577.5 925.9,578.4 927.2,579.2 928.5,580.1 929.7,580.9 931.0,581.7 932.2,582.5 933.4,583.3 934.6,584.1 935.8,584.9 937.0,585.6 938.2,586.4 939.3,587.2 940.5,587.9 941.6,588.6 942.7,589.4 943.8,590.1 944.9,590.8 946.0,591.5 947.0,592.2 948.1,592.9 949.2,593.6 950.2,594.2 951.2,594.9 952.2,595.6 953.2,596.2 954.2,596.9 955.2,597.5 956.2,598.2 957.2,598.8 958.1,599.4 959.1,600.1 960.0,600.7 961.0,601.3 961.9,601.9 962.8,602.5 963.7,603.1 964.6,603.7 965.5,604.3 966.4,604.9 967.3,605.4 968.2,606.0 969.0,606.6 969.9,607.1 970.7,607.7 971.6,608.2 972.4,608.8 973.2,609.3 974.1,609.9 974.9,610.4 975.7,610.9 976.5,611.5 977.3,612.0 978.1,612.5 978.9,613.0 979.7,613.5 980.4,614.0 981.2,614.5 982.0,615.1 982.7,615.5 983.5,616.0 984.2,616.5 985.0,617.0 985.7,617.5 986.4,618.0 987.2,618.5 987.9,618.9 988.6,619.4 989.3,619.9 990.0,620.3 990.7,620.8 991.4,621.3" fill="none" stroke="#ff0000" stroke-width="2.9" stroke-linejoin="round"/>
<path fill="#ff0000" d="M218.6 123.9H238.0L228.3 143.3ZM468.8 282.0H488.2L478.5 301.4ZM536.3 324.7H555.7L546.0 344.1ZM576.9 350.4H596.3L586.6 369.8ZM606.1 369.0H625.5L615.8 388.4ZM628.8 383.6H648.2L638.5 403.0ZM647.5 395.5H666.9L657.2 414.9ZM663.4 405.7H682.8L673.1 425.1ZM677.1 414.5H696.5L686.8 433.9ZM689.3 422.3H708.7L699.0 441.7ZM700.1 429.2H719.5L709.8 448.6ZM710.0 435.6H729.4L719.7 455.0ZM719.0 441.3H738.4L728.7 460.7ZM727.3 446.7H746.7L737.0 466.1ZM734.9 451.6H754.3L744.6 471.0ZM742.1 456.2H761.5L751.8 475.6ZM748.8 460.5H768.2L758.5 479.9ZM755.1 464.5H774.5L764.8 483.9ZM761.0 468.3H780.4L770.7 487.7ZM766.6 471.9H786.0L776.3 491.3ZM771.9 475.4H791.3L781.6 494.8ZM777.0 478.6H796.4L786.7 498.0ZM781.8 481.7H801.2L791.5 501.1ZM786.5 484.7H805.9L796.2 504.1ZM790.9 487.6H810.3L800.6 507.0ZM795.1 490.3H814.5L804.8 509.7ZM799.2 492.9H818.6L808.9 512.3ZM803.1 495.5H822.5L812.8 514.9ZM806.9 497.9H826.3L816.6 517.3ZM810.6 500.2H830.0L820.3 519.6ZM814.1 502.5H833.5L823.8 521.9ZM817.5 504.7H836.9L827.2 524.1ZM820.8 506.9H840.2L830.5 526.3ZM824.0 508.9H843.4L833.7 528.3ZM827.1 510.9H846.5L836.8 530.3ZM830.1 512.9H849.5L839.8 532.3ZM833.0 514.8H852.4L842.7 534.2ZM835.9 516.6H855.3L845.6 536.0ZM838.7 518.4H858.1L848.4 537.8ZM841.4 520.2H860.8L851.1 539.6ZM844.0 521.9H863.4L853.7 541.3ZM846.6 523.5H866.0L856.3 542.9ZM849.1 525.1H868.5L858.8 544.5ZM851.5 526.7H870.9L861.2 546.1ZM853.9 528.3H873.3L863.6 547.7ZM856.3 529.8H875.7L866.0 549.2ZM858.6 531.3H878.0L868.3 550.7ZM860.8 532.7H880.2L870.5 552.1ZM863.0 534.1H882.4L872.7 553.5ZM865.1 535.5H884.5L874.8 554.9ZM867.2 536.9H886.6L876.9 556.3ZM869.3 538.2H888.7L879.0 557.6ZM871.3 539.5H890.7L881.0 558.9ZM873.3 540.8H892.7L883.0 560.2ZM875.3 542.1H894.7L885.0 561.5ZM877.2 543.3H896.6L886.9 562.7ZM879.0 544.5H898.4L888.7 563.9ZM880.9 545.7H900.3L890.6 565.1ZM882.7 546.9H902.1L892.4 566.3ZM884.5 548.1H903.9L894.2 567.5ZM886.2 549.2H905.6L895.9 568.6ZM887.9 550.3H907.3L897.6 569.7ZM889.6 551.4H909.0L899.3 570.8ZM891.3 552.5H910.7L901.0 571.9ZM892.9 553.6H912.3L902.6 573.0ZM894.6 554.6H914.0L904.3 574.0ZM896.2 555.7H915.6L905.9 575.1ZM897.7 556.7H917.1L907.4 576.1ZM899.3 557.7H918.7L909.0 577.1ZM900.8 558.7H920.2L910.5 578.1ZM902.3 559.6H921.7L912.0 579.0ZM903.8 560.6H923.2L913.5 580.0ZM905.2 561.6H924.6L914.9 581.0ZM906.7 562.5H926.1L916.4 581.9ZM908.1 563.4H927.5L917.8 582.8ZM909.5 564.3H928.9L919.2 583.7ZM910.9 565.2H930.3L920.6 584.6ZM912.2 566.1H931.6L921.9 585.5ZM913.6 567.0H933.0L923.3 586.4ZM914.9 567.8H934.3L924.6 587.2ZM916.2 568.7H935.6L925.9 588.1ZM917.5 569.5H936.9L927.2 588.9ZM918.8 570.4H938.2L928.5 589.8ZM920.0 571.2H939.4L929.7 590.6ZM921.3 572.0H940.7L931.0 591.4ZM922.5 572.8H941.9L932.2 592.2ZM923.7 573.6H943.1L933.4 593.0ZM924.9 574.4H944.3L934.6 593.8ZM926.1 575.2H945.5L935.8 594.6ZM927.3 575.9H946.7L937.0 595.3ZM928.5 576.7H947.9L938.2 596.1ZM929.6 577.5H949.0L939.3 596.9ZM930.8 578.2H950.2L940.5 597.6ZM931.9 578.9H951.3L941.6 598.3ZM933.0 579.7H952.4L942.7 599.1ZM934.1 580.4H953.5L943.8 599.8ZM935.2 581.1H954.6L944.9 600.5ZM936.3 581.8H955.7L946.0 601.2ZM937.3 582.5H956.7L947.0 601.9ZM938.4 583.2H957.8L948.1 602.6ZM939.5 583.9H958.9L949.2 603.3ZM940.5 584.5H959.9L950.2 603.9ZM941.5 585.2H960.9L951.2 604.6ZM942.5 585.9H961.9L952.2 605.3ZM943.5 586.5H962.9L953.2 605.9ZM944.5 587.2H963.9L954.2 606.6ZM945.5 587.8H964.9L955.2 607.2ZM946.5 588.5H965.9L956.2 607.9ZM947.5 589.1H966.9L957.2 608.5ZM948.4 589.7H967.8L958.1 609.1ZM949.4 590.4H968.8L959.1 609.8ZM950.3 591.0H969.7L960.0 610.4ZM951.3 591.6H970.7L961.0 611.0ZM952.2 592.2H971.6L961.9 611.6ZM953.1 592.8H972.5L962.8 612.2ZM954.0 593.4H973.4L963.7 612.8ZM954.9 594.0H974.3L964.6 613.4ZM955.8 594.6H975.2L965.5 614.0ZM956.7 595.2H976.1L966.4 614.6ZM957.6 595.7H977.0L967.3 615.1ZM958.5 596.3H977.9L968.2 615.7ZM959.3 596.9H978.7L969.0 616.3ZM960.2 597.4H979.6L969.9 616.8ZM961.0 598.0H980.4L970.7 617.4ZM961.9 598.5H981.3L971.6 617.9ZM962.7 599.1H982.1L972.4 618.5ZM963.5 599.6H982.9L973.2 619.0ZM964.4 600.2H983.8L974.1 619.6ZM965.2 600.7H984.6L974.9 620.1ZM966.0 601.2H985.4L975.7 620.6ZM966.8 601.8H986.2L976.5 621.2ZM967.6 602.3H987.0L977.3 621.7ZM968.4 602.8H987.8L978.1 622.2ZM969.2 603.3H988.6L978.9 622.7ZM970.0 603.8H989.4L979.7 623.2ZM970.7 604.3H990.1L980.4 623.7ZM971.5 604.8H990.9L981.2 624.2ZM972.3 605.4H991.7L982.0 624.8ZM973.0 605.8H992.4L982.7 625.2ZM973.8 606.3H993.2L983.5 625.7ZM974.5 606.8H993.9L984.2 626.2ZM975.3 607.3H994.7L985.0 626.7ZM976.0 607.8H995.4L985.7 627.2ZM976.7 608.3H996.1L986.4 627.7ZM977.5 608.8H996.9L987.2 628.2ZM978.2 609.2H997.6L987.9 628.6ZM978.9 609.7H998.3L988.6 629.1ZM979.6 610.2H999.0L989.3 629.6ZM980.3 610.6H999.7L990.0 630.0ZM981.0 611.1H1000.4L990.7 630.5Z"/>
<polygon fill="#ff0000" points="975.5,606.8 976.5,606.8 977.5,606.8 978.5,606.8 979.5,606.8 980.5,606.8 981.5,606.8 982.5,606.8 983.5,606.8 984.5,606.8 985.5,606.8 986.5,606.8 987.5,606.8 988.5,606.8 989.5,606.8 990.5,606.8 991.5,606.8 992.5,606.8 993.5,606.8 994.5,607.3 995.5,608.0 996.5,608.6 997.5,609.3 998.5,609.9 999.5,610.6 1000.5,611.2 1001.5,611.9 1002.5,612.5 1003.5,613.2 1004.5,613.8 1005.5,614.5 1006.5,615.1 1007.5,615.8 1008.5,616.3 1009.5,616.9 1010.5,617.6 1011.5,618.2 1012.5,618.9 1013.5,619.5 1014.5,620.2 1015.5,620.8 1016.5,621.5 1017.5,622.1 1018.5,622.8 1019.5,623.4 1020.5,624.1 1021.5,624.7 1022.5,625.4 1023.5,626.0 1024.5,626.7 1025.5,627.3 1026.5,628.0 1027.5,628.6 1028.5,629.3 1029.5,629.9 1030.5,630.6 1031.5,631.2 1032.5,631.9 1033.5,632.5 1034.5,633.2 1035.5,633.9 1036.5,634.5 1037.5,635.2 1038.5,635.8 1039.5,636.5 1040.5,637.1 1041.5,637.8 1042.5,638.3 1043.5,638.9 1044.5,639.6 1045.5,640.2 1046.5,640.9 1047.5,641.5 1048.5,642.2 1049.5,642.9 1050.5,643.5 1051.5,644.2 1052.5,644.8 1053.5,645.5 1054.5,646.1 1055.5,646.8 1056.5,647.4 1057.5,648.1 1058.5,648.8 1059.5,649.4 1060.5,650.1 1061.5,650.7 1062.5,651.4 1063.5,652.0 1064.5,652.7 1065.5,653.4 1066.5,654.0 1067.5,654.7 1068.5,655.3 1069.5,656.0 1070.5,656.6 1071.5,657.3 1072.5,658.0 1073.5,658.6 1074.5,659.3 1075.5,659.9 1076.5,660.4 1077.5,661.1 1078.5,661.7 1079.5,662.4 1080.5,663.1 1081.5,663.7 1082.5,664.4 1083.5,665.0 1084.5,665.7 1085.5,666.3 1086.5,667.0 1087.5,667.7 1088.5,668.3 1089.5,669.0 1090.5,669.6 1091.5,670.3 1092.5,671.0 1093.5,671.6 1094.5,672.3 1095.5,672.9 1096.5,673.6 1097.5,674.3 1098.5,674.9 1099.5,675.6 1100.5,676.3 1101.5,676.9 1102.5,677.6 1103.5,678.2 1104.5,678.9 1105.5,679.6 1106.5,680.2 1107.5,680.9 1108.5,681.5 1109.5,682.2 1110.5,682.9 1111.5,683.4 1112.5,684.0 1113.5,684.7 1114.5,685.4 1115.5,686.0 1116.5,686.7 1117.5,687.4 1118.5,688.0 1119.5,688.7 1120.5,689.3 1121.5,690.0 1122.5,690.7 1123.5,691.3 1124.5,692.0 1125.5,692.7 1126.5,693.3 1127.5,694.0 1128.5,694.7 1129.5,695.3 1130.5,696.0 1131.5,696.7 1132.5,697.3 1133.5,698.0 1134.5,698.7 1135.5,699.3 1136.5,700.0 1137.5,700.7 1138.5,701.3 1139.5,702.0 1140.5,702.7 1141.5,703.3 1142.5,704.0 1143.5,704.7 1144.5,705.4 1145.5,705.9 1146.5,706.5 1147.5,707.2 1148.5,707.9 1149.5,708.6 1150.5,709.2 1151.5,709.9 1152.5,710.6 1153.5,711.3 1154.5,712.0 1155.5,712.6 1156.5,713.3 1157.5,714.0 1158.5,714.7 1159.5,715.4 1160.5,716.0 1161.5,716.7 1162.5,717.4 1163.5,718.1 1164.5,718.8 1165.5,719.4 1166.5,720.1 1167.5,720.8 1168.5,721.5 1169.5,722.2 1170.5,722.8 1171.5,723.5 1172.5,724.2 1173.5,724.9 1174.5,725.6 1175.5,726.3 1176.5,726.9 1177.5,727.6 1178.5,728.3 1179.5,729.0 1180.5,729.7 1181.5,730.4 1182.5,731.0 1183.5,731.7 1184.5,732.4 1185.5,733.1 1186.5,733.8 1187.5,734.5 1188.5,735.2 1189.5,735.8 1190.5,736.5 1191.5,737.2 1192.5,737.9 1193.5,738.6 1194.5,739.3 1195.5,740.0 1196.5,740.7 1197.5,741.3 1198.5,742.0 1199.5,742.7 1200.5,743.4 1201.5,744.1 1202.5,744.8 1203.5,745.5 1204.5,746.2 1205.5,746.9 1206.5,747.6 1207.5,748.2 1208.5,748.9 1209.5,749.6 1210.5,750.3 1211.5,751.0 1212.5,751.7 1213.5,752.4 1214.5,753.1 1215.5,753.8 1216.5,754.5 1217.5,755.2 1218.5,755.9 1219.5,756.6 1220.5,757.3 1221.5,757.9 1222.5,758.6 1223.5,759.3 1224.5,760.0 1225.5,760.7 1226.5,761.4 1227.5,762.1 1228.5,762.8 1229.5,763.5 1230.5,764.2 1231.5,764.9 1232.5,765.6 1233.5,766.3 1234.5,767.0 1235.5,767.7 1236.5,768.4 1237.5,769.1 1238.5,769.8 1239.5,770.5 1240.5,771.2 1241.5,771.9 1242.5,772.6 1243.5,773.3 1244.5,774.0 1245.5,774.7 1246.5,775.4 1247.5,776.1 1248.5,776.8 1249.5,777.5 1250.5,778.2 1251.5,778.9 1252.5,779.6 1253.5,780.3 1254.5,781.0 1255.5,781.8 1256.5,782.5 1257.5,783.2 1258.5,783.9 1259.5,784.6 1260.5,785.3 1261.5,786.0 1262.5,786.7 1263.5,787.4 1264.5,788.1 1265.5,788.8 1266.5,789.5 1267.5,790.2 1268.5,791.0 1269.5,791.7 1270.5,792.4 1271.5,793.1 1272.5,793.8 1273.5,794.5 1274.5,795.2 1275.5,795.9 1276.5,796.6 1277.5,797.4 1278.5,798.1 1279.5,798.8 1280.5,799.5 1281.5,800.2 1282.5,800.9 1283.5,801.6 1284.5,802.4 1285.5,803.1 1286.5,803.8 1287.5,804.5 1288.5,805.2 1289.5,806.0 1290.5,806.7 1291.5,807.4 1292.5,808.1 1293.5,808.8 1294.5,809.5 1295.5,810.3 1296.5,811.0 1297.5,811.7 1298.5,812.4 1299.5,813.2 1300.5,813.9 1301.5,814.6 1302.5,815.3 1303.5,816.0 1304.5,816.8 1305.5,817.5 1306.5,818.2 1307.5,818.9 1308.5,819.7 1309.5,820.4 1310.5,821.1 1311.5,821.8 1312.5,822.6 1313.5,823.3 1314.5,824.0 1315.5,824.8 1316.5,825.5 1317.5,826.2 1318.5,826.9 1319.5,827.7 1320.5,828.4 1321.5,829.1 1322.5,829.9 1323.5,830.6 1324.5,831.3 1325.5,832.1 1326.5,832.8 1327.5,833.5 1328.5,834.3 1329.5,835.0 1330.5,835.7 1331.5,836.5 1332.5,837.2 1333.5,837.9 1334.5,838.7 1335.5,839.4 1336.5,840.2 1337.5,840.9 1338.5,841.6 1339.5,842.4 1340.5,843.1 1341.5,843.9 1342.5,844.6 1343.5,845.3 1344.5,846.1 1345.5,846.8 1346.5,847.6 1347.5,848.3 1348.5,849.1 1349.5,849.8 1350.5,850.5 1351.5,851.3 1352.5,852.0 1353.5,852.8 1354.5,853.5 1355.5,854.3 1356.5,855.0 1357.5,855.8 1358.5,856.5 1359.5,857.3 1360.5,858.0 1361.5,858.8 1362.5,859.5 1363.5,860.3 1364.5,861.0 1365.5,861.8 1366.5,862.5 1367.5,863.3 1368.5,864.1 1369.5,864.8 1370.5,865.6 1371.5,866.3 1372.5,867.1 1373.5,867.8 1374.5,868.6 1375.5,869.4 1376.5,870.1 1377.5,870.9 1378.5,871.6 1379.5,872.4 1380.5,873.2 1381.5,873.9 1382.5,874.7 1383.5,875.4 1384.5,876.2 1385.5,877.0 1386.5,877.7 1387.5,878.5 1388.5,879.3 1389.5,880.0 1390.5,880.8 1391.5,881.6 1392.5,882.3 1393.5,883.1 1394.5,883.9 1395.5,884.7 1396.5,885.4 1397.5,886.2 1398.5,887.0 1399.5,887.7 1400.5,888.5 1401.5,889.3 1402.5,890.1 1403.5,890.8 1404.5,891.6 1405.5,892.4 1406.5,893.2 1407.5,893.9 1408.5,894.7 1409.5,895.5 1410.5,896.3 1411.5,897.1 1412.5,897.8 1413.5,898.6 1414.5,899.4 1415.5,900.2 1416.5,901.0 1417.5,901.8 1418.5,902.6 1419.5,903.3 1420.5,904.1 1421.5,904.9 1422.5,905.7 1423.5,906.5 1424.5,907.3 1425.5,908.1 1426.5,908.9 1427.5,909.7 1428.5,910.4 1429.5,911.2 1430.5,912.0 1431.5,912.8 1432.5,913.6 1433.5,914.4 1434.5,915.2 1435.5,916.0 1436.5,916.8 1437.5,917.6 1438.5,918.4 1439.5,919.2 1440.5,920.0 1441.5,920.8 1442.5,921.6 1443.5,922.4 1444.5,923.2 1445.5,924.0 1446.5,924.8 1447.5,925.6 1448.5,926.5 1449.5,927.3 1450.5,928.1 1451.5,928.9 1452.5,929.7 1453.5,930.5 1454.5,931.3 1455.5,932.1 1456.5,932.9 1457.5,933.8 1458.5,934.6 1459.5,935.4 1460.5,936.2 1461.5,937.0 1462.5,937.8 1463.5,938.7 1464.5,939.5 1465.5,940.3 1466.5,941.1 1467.5,941.9 1468.5,942.8 1469.5,943.6 1470.5,944.4 1471.5,945.2 1472.5,946.1 1473.5,946.9 1474.5,947.7 1475.5,948.6 1476.5,949.4 1477.5,950.2 1478.5,951.0 1479.5,951.9 1480.5,952.7 1481.5,953.5 1482.5,954.4 1483.5,955.2 1484.5,956.1 1485.5,956.9 1486.5,957.7 1487.5,958.6 1488.5,959.4 1489.5,960.3 1490.5,961.1 1491.5,961.9 1492.5,962.8 1493.5,963.6 1494.5,964.5 1495.5,965.3 1496.5,966.2 1497.5,967.0 1498.5,967.9 1499.5,968.7 1500.5,969.6 1501.5,970.4 1502.5,971.3 1503.5,972.1 1504.5,973.0 1505.5,973.8 1506.5,974.7 1507.5,975.5 1508.5,976.4 1509.5,977.3 1510.5,978.1 1511.5,979.0 1512.5,979.8 1513.5,980.7 1514.5,981.6 1515.5,982.4 1516.5,983.3 1517.5,984.2 1518.5,985.0 1519.5,985.9 1520.5,986.8 1521.5,987.6 1522.5,988.5 1523.5,989.4 1524.5,990.3 1525.5,991.1 1526.5,992.0 1527.5,992.9 1528.5,993.8 1529.5,994.6 1530.5,995.5 1531.5,996.4 1532.5,997.3 1533.5,998.2 1534.5,999.0 1535.5,999.9 1536.5,1000.8 1537.5,1001.7 1538.5,1002.6 1539.5,1003.5 1540.5,1004.4 1541.5,1005.3 1542.5,1006.1 1543.5,1007.0 1544.5,1007.9 1545.5,1008.8 1546.5,1009.7 1547.5,1010.6 1548.5,1011.5 1549.5,1012.4 1550.5,1013.3 1551.5,1014.2 1552.5,1015.1 1553.5,1016.0 1554.5,1016.9 1555.5,1017.8 1556.5,1018.7 1557.5,1019.6 1558.5,1020.6 1559.5,1021.5 1560.5,1022.4 1561.5,1023.3 1562.5,1024.2 1563.5,1025.1 1564.5,1026.0 1565.5,1026.9 1566.5,1027.9 1567.5,1028.8 1568.5,1029.7 1569.5,1030.6 1570.5,1031.5 1571.5,1032.5 1572.5,1033.4 1573.5,1034.3 1574.5,1035.2 1575.5,1036.2 1576.5,1037.1 1577.5,1038.0 1578.5,1038.9 1579.5,1039.9 1580.5,1040.8 1581.5,1041.7 1582.5,1042.7 1583.5,1043.6 1584.5,1044.6 1585.5,1045.5 1586.5,1046.4 1587.5,1047.4 1588.5,1048.3 1589.5,1049.3 1590.5,1050.2 1591.5,1051.1 1592.5,1052.1 1593.5,1053.0 1594.5,1054.0 1595.5,1054.9 1596.5,1055.9 1597.5,1056.8 1598.5,1057.8 1599.5,1058.7 1600.5,1059.7 1601.5,1060.6 1602.5,1061.6 1603.5,1062.6 1604.5,1063.5 1605.5,1064.5 1606.5,1065.4 1607.5,1066.4 1608.5,1067.4 1609.5,1068.3 1610.5,1069.3 1611.5,1070.3 1612.5,1071.2 1613.5,1072.2 1614.5,1073.2 1615.5,1074.2 1616.5,1075.1 1617.5,1076.1 1618.5,1077.1 1619.5,1078.1 1620.5,1079.0 1621.5,1080.0 1622.5,1081.0 1623.5,1082.0 1624.5,1083.0 1625.5,1083.9 1626.5,1084.9 1627.5,1085.9 1628.5,1086.9 1629.5,1087.9 1630.5,1088.9 1631.5,1089.9 1632.5,1090.9 1633.5,1091.9 1634.5,1092.8 1635.5,1093.8 1636.5,1094.8 1637.5,1095.8 1638.5,1096.8 1639.5,1097.8 1640.5,1098.8 1641.5,1099.8 1642.5,1100.8 1643.5,1101.8 1644.5,1102.9 1645.5,1103.9 1646.5,1104.9 1647.5,1105.9 1648.5,1106.9 1649.5,1107.9 1650.5,1108.9 1651.5,1109.9 1652.5,1110.9 1653.5,1112.0 1654.5,1113.0 1655.5,1114.0 1656.5,1115.0 1657.5,1116.0 1658.5,1117.1 1659.5,1118.1 1660.5,1119.1 1661.5,1120.1 1662.5,1121.2 1663.5,1122.2 1664.5,1123.2 1665.5,1124.3 1666.5,1125.3 1667.5,1126.3 1668.5,1127.3 1669.5,1128.4 1670.5,1129.4 1671.5,1130.5 1672.5,1131.5 1673.5,1132.5 1674.5,1133.6 1675.5,1134.6 1676.5,1135.7 1677.5,1136.7 1678.5,1137.8 1679.5,1138.8 1680.5,1139.8 1680.5,1139.8 1679.5,1141.8 1678.5,1143.8 1677.5,1145.8 1676.5,1147.8 1675.5,1149.8 1674.5,1151.8 1673.5,1153.8 1672.5,1155.8 1671.5,1157.8 1670.5,1159.8 1669.5,1161.1 1668.5,1160.0 1667.5,1159.0 1666.5,1157.9 1665.5,1156.9 1664.5,1155.9 1663.5,1154.8 1662.5,1153.8 1661.5,1152.7 1660.5,1151.7 1659.5,1150.7 1658.5,1149.6 1657.5,1148.6 1656.5,1147.6 1655.5,1146.5 1654.5,1145.5 1653.5,1144.5 1652.5,1143.4 1651.5,1142.4 1650.5,1141.4 1649.5,1140.4 1648.5,1139.3 1647.5,1138.3 1646.5,1137.3 1645.5,1136.3 1644.5,1135.2 1643.5,1134.2 1642.5,1133.2 1641.5,1132.2 1640.5,1131.2 1639.5,1130.2 1638.5,1129.1 1637.5,1128.1 1636.5,1127.1 1635.5,1126.1 1634.5,1125.1 1633.5,1124.1 1632.5,1123.1 1631.5,1122.1 1630.5,1121.1 1629.5,1120.1 1628.5,1119.1 1627.5,1118.1 1626.5,1117.1 1625.5,1116.1 1624.5,1115.1 1623.5,1114.1 1622.5,1113.1 1621.5,1112.1 1620.5,1111.1 1619.5,1110.1 1618.5,1109.1 1617.5,1108.2 1616.5,1107.2 1615.5,1106.2 1614.5,1105.2 1613.5,1104.2 1612.5,1103.2 1611.5,1102.2 1610.5,1101.3 1609.5,1100.3 1608.5,1099.3 1607.5,1098.3 1606.5,1097.4 1605.5,1096.4 1604.5,1095.4 1603.5,1094.4 1602.5,1093.5 1601.5,1092.5 1600.5,1091.5 1599.5,1090.6 1598.5,1089.6 1597.5,1088.6 1596.5,1087.7 1595.5,1086.7 1594.5,1085.7 1593.5,1084.8 1592.5,1083.8 1591.5,1082.9 1590.5,1081.9 1589.5,1081.0 1588.5,1080.0 1587.5,1079.0 1586.5,1078.1 1585.5,1077.1 1584.5,1076.2 1583.5,1075.2 1582.5,1074.3 1581.5,1073.3 1580.5,1072.4 1579.5,1071.5 1578.5,1070.5 1577.5,1069.6 1576.5,1068.6 1575.5,1067.7 1574.5,1066.8 1573.5,1065.8 1572.5,1064.9 1571.5,1063.9 1570.5,1063.0 1569.5,1062.1 1568.5,1061.1 1567.5,1060.2 1566.5,1059.3 1565.5,1058.4 1564.5,1057.4 1563.5,1056.5 1562.5,1055.6 1561.5,1054.7 1560.5,1053.7 1559.5,1052.8 1558.5,1051.9 1557.5,1051.0 1556.5,1050.0 1555.5,1049.1 1554.5,1048.2 1553.5,1047.3 1552.5,1046.4 1551.5,1045.5 1550.5,1044.6 1549.5,1043.6 1548.5,1042.7 1547.5,1041.8 1546.5,1040.9 1545.5,1040.0 1544.5,1039.1 1543.5,1038.2 1542.5,1037.3 1541.5,1036.4 1540.5,1035.5 1539.5,1034.6 1538.5,1033.7 1537.5,1032.8 1536.5,1031.9 1535.5,1031.0 1534.5,1030.1 1533.5,1029.2 1532.5,1028.3 1531.5,1027.4 1530.5,1026.5 1529.5,1025.6 1528.5,1024.8 1527.5,1023.9 1526.5,1023.0 1525.5,1022.1 1524.5,1021.2 1523.5,1020.3 1522.5,1019.4 1521.5,1018.6 1520.5,1017.7 1519.5,1016.8 1518.5,1015.9 1517.5,1015.0 1516.5,1014.2 1515.5,1013.3 1514.5,1012.4 1513.5,1011.5 1512.5,1010.7 1511.5,1009.8 1510.5,1008.9 1509.5,1008.1 1508.5,1007.2 1507.5,1006.3 1506.5,1005.4 1505.5,1004.6 1504.5,1003.7 1503.5,1002.9 1502.5,1002.0 1501.5,1001.1 1500.5,1000.3 1499.5,999.4 1498.5,998.5 1497.5,997.7 1496.5,996.8 1495.5,996.0 1494.5,995.1 1493.5,994.3 1492.5,993.4 1491.5,992.6 1490.5,991.7 1489.5,990.8 1488.5,990.0 1487.5,989.1 1486.5,988.3 1485.5,987.5 1484.5,986.6 1483.5,985.8 1482.5,984.9 1481.5,984.1 1480.5,983.2 1479.5,982.4 1478.5,981.5 1477.5,980.7 1476.5,979.9 1475.5,979.0 1474.5,978.2 1473.5,977.3 1472.5,976.5 1471.5,975.7 1470.5,974.8 1469.5,974.0 1468.5,973.2 1467.5,972.3 1466.5,971.5 1465.5,970.7 1464.5,969.8 1463.5,969.0 1462.5,968.2 1461.5,967.4 1460.5,966.5 1459.5,965.7 1458.5,964.9 1457.5,964.1 1456.5,963.2 1455.5,962.4 1454.5,961.6 1453.5,960.8 1452.5,960.0 1451.5,959.1 1450.5,958.3 1449.5,957.5 1448.5,956.7 1447.5,955.9 1446.5,955.1 1445.5,954.2 1444.5,953.4 1443.5,952.6 1442.5,951.8 1441.5,951.0 1440.5,950.2 1439.5,949.4 1438.5,948.6 1437.5,947.8 1436.5,946.9 1435.5,946.1 1434.5,945.3 1433.5,944.5 1432.5,943.7 1431.5,942.9 1430.5,942.1 1429.5,941.3 1428.5,940.5 1427.5,939.7 1426.5,938.9 1425.5,938.1 1424.5,937.3 1423.5,936.5 1422.5,935.7 1421.5,934.9 1420.5,934.1 1419.5,933.3 1418.5,932.5 1417.5,931.8 1416.5,931.0 1415.5,930.2 1414.5,929.4 1413.5,928.6 1412.5,927.8 1411.5,927.0 1410.5,926.2 1409.5,925.4 1408.5,924.6 1407.5,923.9 1406.5,923.1 1405.5,922.3 1404.5,921.5 1403.5,920.7 1402.5,919.9 1401.5,919.2 1400.5,918.4 1399.5,917.6 1398.5,916.8 1397.5,916.0 1396.5,915.3 1395.5,914.5 1394.5,913.7 1393.5,912.9 1392.5,912.1 1391.5,911.4 1390.5,910.6 1389.5,909.8 1388.5,909.0 1387.5,908.3 1386.5,907.5 1385.5,906.7 1384.5,906.0 1383.5,905.2 1382.5,904.4 1381.5,903.6 1380.5,902.9 1379.5,902.1 1378.5,901.3 1377.5,900.6 1376.5,899.8 1375.5,899.0 1374.5,898.3 1373.5,897.5 1372.5,896.8 1371.5,896.0 1370.5,895.2 1369.5,894.5 1368.5,893.7 1367.5,892.9 1366.5,892.2 1365.5,891.4 1364.5,890.7 1363.5,889.9 1362.5,889.1 1361.5,888.4 1360.5,887.6 1359.5,886.9 1358.5,886.1 1357.5,885.4 1356.5,884.6 1355.5,883.9 1354.5,883.1 1353.5,882.3 1352.5,881.6 1351.5,880.8 1350.5,880.1 1349.5,879.3 1348.5,878.6 1347.5,877.8 1346.5,877.1 1345.5,876.3 1344.5,875.6 1343.5,874.8 1342.5,874.1 1341.5,873.4 1340.5,872.6 1339.5,871.9 1338.5,871.1 1337.5,870.4 1336.5,869.6 1335.5,868.9 1334.5,868.1 1333.5,867.4 1332.5,866.7 1331.5,865.9 1330.5,865.2 1329.5,864.4 1328.5,863.7 1327.5,863.0 1326.5,862.2 1325.5,861.5 1324.5,860.7 1323.5,860.0 1322.5,859.3 1321.5,858.5 1320.5,857.8 1319.5,857.1 1318.5,856.3 1317.5,855.6 1316.5,854.9 1315.5,854.1 1314.5,853.4 1313.5,852.6 1312.5,851.9 1311.5,851.2 1310.5,850.5 1309.5,849.7 1308.5,849.0 1307.5,848.3 1306.5,847.5 1305.5,846.8 1304.5,846.1 1303.5,845.3 1302.5,844.6 1301.5,843.9 1300.5,843.2 1299.5,842.4 1298.5,841.7 1297.5,841.0 1296.5,840.3 1295.5,839.5 1294.5,838.8 1293.5,838.1 1292.5,837.4 1291.5,836.6 1290.5,835.9 1289.5,835.2 1288.5,834.5 1287.5,833.7 1286.5,833.0 1285.5,832.3 1284.5,831.6 1283.5,830.9 1282.5,830.1 1281.5,829.4 1280.5,828.7 1279.5,828.0 1278.5,827.3 1277.5,826.6 1276.5,825.8 1275.5,825.1 1274.5,824.4 1273.5,823.7 1272.5,823.0 1271.5,822.3 1270.5,821.5 1269.5,820.8 1268.5,820.1 1267.5,819.4 1266.5,818.7 1265.5,818.0 1264.5,817.3 1263.5,816.5 1262.5,815.8 1261.5,815.1 1260.5,814.4 1259.5,813.7 1258.5,813.0 1257.5,812.3 1256.5,811.6 1255.5,810.9 1254.5,810.2 1253.5,809.4 1252.5,808.7 1251.5,808.0 1250.5,807.3 1249.5,806.6 1248.5,805.9 1247.5,805.2 1246.5,804.5 1245.5,803.8 1244.5,803.1 1243.5,802.4 1242.5,801.7 1241.5,801.0 1240.5,800.3 1239.5,799.6 1238.5,798.9 1237.5,798.1 1236.5,797.4 1235.5,796.7 1234.5,796.0 1233.5,795.3 1232.5,794.6 1231.5,793.9 1230.5,793.2 1229.5,792.5 1228.5,791.8 1227.5,791.1 1226.5,790.4 1225.5,789.7 1224.5,789.0 1223.5,788.3 1222.5,787.6 1221.5,786.9 1220.5,786.2 1219.5,785.5 1218.5,784.8 1217.5,784.1 1216.5,783.4 1215.5,782.8 1214.5,782.1 1213.5,781.4 1212.5,780.7 1211.5,780.0 1210.5,779.3 1209.5,778.6 1208.5,777.9 1207.5,777.2 1206.5,776.5 1205.5,775.8 1204.5,775.1 1203.5,774.4 1202.5,773.7 1201.5,773.0 1200.5,772.3 1199.5,771.6 1198.5,771.0 1197.5,770.3 1196.5,769.6 1195.5,768.9 1194.5,768.2 1193.5,767.5 1192.5,766.8 1191.5,766.1 1190.5,765.4 1189.5,764.7 1188.5,764.1 1187.5,763.4 1186.5,762.7 1185.5,762.0 1184.5,761.3 1183.5,760.6 1182.5,759.9 1181.5,759.2 1180.5,758.5 1179.5,757.9 1178.5,757.2 1177.5,756.5 1176.5,755.8 1175.5,755.1 1174.5,754.4 1173.5,753.7 1172.5,753.1 1171.5,752.4 1170.5,751.7 1169.5,751.0 1168.5,750.3 1167.5,749.6 1166.5,749.0 1165.5,748.3 1164.5,747.6 1163.5,746.9 1162.5,746.2 1161.5,745.5 1160.5,744.9 1159.5,744.2 1158.5,743.5 1157.5,742.8 1156.5,742.1 1155.5,741.4 1154.5,740.8 1153.5,740.1 1152.5,739.4 1151.5,738.7 1150.5,738.0 1149.5,737.4 1148.5,736.7 1147.5,736.0 1146.5,735.3 1145.5,734.6 1144.5,734.0 1143.5,733.3 1142.5,732.6 1141.5,731.9 1140.5,731.3 1139.5,730.6 1138.5,729.9 1137.5,729.2 1136.5,728.5 1135.5,727.9 1134.5,727.2 1133.5,726.5 1132.5,725.8 1131.5,725.1 1130.5,724.5 1129.5,723.8 1128.5,723.1 1127.5,722.4 1126.5,721.7 1125.5,721.0 1124.5,720.4 1123.5,719.7 1122.5,719.0 1121.5,718.3 1120.5,717.6 1119.5,717.0 1118.5,716.3 1117.5,715.6 1116.5,714.9 1115.5,714.2 1114.5,713.5 1113.5,712.9 1112.5,712.2 1111.5,711.5 1110.5,710.8 1109.5,710.2 1108.5,709.5 1107.5,708.8 1106.5,708.1 1105.5,707.4 1104.5,706.8 1103.5,706.1 1102.5,705.4 1101.5,704.7 1100.5,704.0 1099.5,703.4 1098.5,702.7 1097.5,702.0 1096.5,701.3 1095.5,700.7 1094.5,700.0 1093.5,699.3 1092.5,698.6 1091.5,698.0 1090.5,697.3 1089.5,696.6 1088.5,695.9 1087.5,695.2 1086.5,694.6 1085.5,693.9 1084.5,693.2 1083.5,692.5 1082.5,691.9 1081.5,691.2 1080.5,690.5 1079.5,689.8 1078.5,689.2 1077.5,688.5 1076.5,687.8 1075.5,687.2 1074.5,686.5 1073.5,685.8 1072.5,685.1 1071.5,684.5 1070.5,683.8 1069.5,683.1 1068.5,682.4 1067.5,681.8 1066.5,681.1 1065.5,680.4 1064.5,679.7 1063.5,679.1 1062.5,678.4 1061.5,677.7 1060.5,677.1 1059.5,676.4 1058.5,675.7 1057.5,675.0 1056.5,674.4 1055.5,673.7 1054.5,673.0 1053.5,672.4 1052.5,671.7 1051.5,671.0 1050.5,670.3 1049.5,669.7 1048.5,669.0 1047.5,668.3 1046.5,667.7 1045.5,667.0 1044.5,666.3 1043.5,665.6 1042.5,665.0 1041.5,664.3 1040.5,663.6 1039.5,663.0 1038.5,662.3 1037.5,661.6 1036.5,661.0 1035.5,660.3 1034.5,659.6 1033.5,658.9 1032.5,658.3 1031.5,657.6 1030.5,656.9 1029.5,656.3 1028.5,655.6 1027.5,654.9 1026.5,654.3 1025.5,653.6 1024.5,652.9 1023.5,652.3 1022.5,651.6 1021.5,650.9 1020.5,650.3 1019.5,649.6 1018.5,648.9 1017.5,648.3 1016.5,647.6 1015.5,646.9 1014.5,646.3 1013.5,645.6 1012.5,644.9 1011.5,644.3 1010.5,643.6 1009.5,642.9 1008.5,642.3 1007.5,641.6 1006.5,640.9 1005.5,640.3 1004.5,639.6 1003.5,638.9 1002.5,638.3 1001.5,637.6 1000.5,636.9 999.5,636.3 998.5,635.6 997.5,634.9 996.5,634.3 995.5,633.6 994.5,632.9 993.5,632.3 992.5,631.6 991.5,630.9 990.5,630.3 989.5,629.6 988.5,629.0 987.5,628.3 986.5,627.6 985.5,627.0 984.5,626.3 983.5,624.8 982.5,622.8 981.5,620.8 980.5,618.8 979.5,616.8 978.5,614.8 977.5,612.8 976.5,610.8 975.5,608.8"/>
</g>
<rect x="939.5" y="87.0" width="701.5" height="174.0" rx="6" fill="#fff" fill-opacity="0.8" stroke="#d9d9d9" stroke-width="2"/>
<path d="M958.2 131.6H1067.8" stroke="#008000" stroke-width="3.2"/>
<circle cx="1013.3" cy="131.6" r="10.3" fill="#008000"/>
<path d="M958.2 211.7H1067.8" stroke="#ff0000" stroke-width="3.5"/>
<path fill="#ff0000" d="M1003.2 202.9H1023.4L1013.3 223.1Z"/>
<g font-family="'DejaVu Sans', 'Liberation Sans', sans-serif" fill="#000">
<text x="1109.58 1160.14 1208.36 1242.08" y="150.43" font-size="53.00">1x10</text><text x="1276.30 1299.91" y="128.64" font-size="37.10">12</text><text x="1341.81 1374.42" y="150.43" font-size="53.00">eV</text><text x="1411.18 1442.27" y="128.64" font-size="37.10">−1</text><text x="1484.17 1513.31" y="150.43" font-size="53.00">cm</text><text x="1565.44 1596.53" y="128.64" font-size="37.10">−2</text>
<text x="1109.58 1160.14 1208.36 1242.08" y="229.03" font-size="53.00">1x10</text><text x="1276.30 1299.91" y="207.24" font-size="37.10">13</text><text x="1341.81 1374.42" y="229.03" font-size="53.00">eV</text><text x="1411.18 1442.27" y="207.24" font-size="37.10">−1</text><text x="1484.17 1513.31" y="229.03" font-size="53.00">cm</text><text x="1565.44 1596.53" y="207.24" font-size="37.10">−2</text>
</g>
<path d="M227.0 1278.0V1290.7M227.0 59.4V47.0M467.2 1278.0V1290.7M467.2 59.4V47.0M707.5 1278.0V1290.7M707.5 59.4V47.0M947.8 1278.0V1290.7M947.8 59.4V47.0M1188.0 1278.0V1290.7M1188.0 59.4V47.0M1428.2 1278.0V1290.7M1428.2 59.4V47.0M1668.5 1278.0V1290.7M1668.5 59.4V47.0M227.0 59.4H214.0M1668.5 59.4H1681.5M227.0 362.5H214.0M1668.5 362.5H1681.5M227.0 668H214.0M1668.5 668H1681.5M227.0 973H214.0M1668.5 973H1681.5M227.0 1277.8H214.0M1668.5 1277.8H1681.5" stroke="#000" stroke-width="5"/>
<path d="M300.3 1278.0V1288.6M300.3 59.4V50.4M342.6 1278.0V1288.6M342.6 59.4V50.4M372.6 1278.0V1288.6M372.6 59.4V50.4M395.9 1278.0V1288.6M395.9 59.4V50.4M415.0 1278.0V1288.6M415.0 59.4V50.4M431.0 1278.0V1288.6M431.0 59.4V50.4M445.0 1278.0V1288.6M445.0 59.4V50.4M457.3 1278.0V1288.6M457.3 59.4V50.4M540.6 1278.0V1288.6M540.6 59.4V50.4M582.9 1278.0V1288.6M582.9 59.4V50.4M612.9 1278.0V1288.6M612.9 59.4V50.4M636.2 1278.0V1288.6M636.2 59.4V50.4M655.2 1278.0V1288.6M655.2 59.4V50.4M671.3 1278.0V1288.6M671.3 59.4V50.4M685.2 1278.0V1288.6M685.2 59.4V50.4M697.5 1278.0V1288.6M697.5 59.4V50.4M780.8 1278.0V1288.6M780.8 59.4V50.4M823.1 1278.0V1288.6M823.1 59.4V50.4M853.1 1278.0V1288.6M853.1 59.4V50.4M876.4 1278.0V1288.6M876.4 59.4V50.4M895.5 1278.0V1288.6M895.5 59.4V50.4M911.5 1278.0V1288.6M911.5 59.4V50.4M925.5 1278.0V1288.6M925.5 59.4V50.4M937.8 1278.0V1288.6M937.8 59.4V50.4M1021.1 1278.0V1288.6M1021.1 59.4V50.4M1063.4 1278.0V1288.6M1063.4 59.4V50.4M1093.4 1278.0V1288.6M1093.4 59.4V50.4M1116.7 1278.0V1288.6M1116.7 59.4V50.4M1135.7 1278.0V1288.6M1135.7 59.4V50.4M1151.8 1278.0V1288.6M1151.8 59.4V50.4M1165.7 1278.0V1288.6M1165.7 59.4V50.4M1178.0 1278.0V1288.6M1178.0 59.4V50.4M1261.3 1278.0V1288.6M1261.3 59.4V50.4M1303.6 1278.0V1288.6M1303.6 59.4V50.4M1333.6 1278.0V1288.6M1333.6 59.4V50.4M1356.9 1278.0V1288.6M1356.9 59.4V50.4M1376.0 1278.0V1288.6M1376.0 59.4V50.4M1392.0 1278.0V1288.6M1392.0 59.4V50.4M1406.0 1278.0V1288.6M1406.0 59.4V50.4M1418.3 1278.0V1288.6M1418.3 59.4V50.4M1501.6 1278.0V1288.6M1501.6 59.4V50.4M1543.9 1278.0V1288.6M1543.9 59.4V50.4M1573.9 1278.0V1288.6M1573.9 59.4V50.4M1597.2 1278.0V1288.6M1597.2 59.4V50.4M1616.2 1278.0V1288.6M1616.2 59.4V50.4M1632.3 1278.0V1288.6M1632.3 59.4V50.4M1646.2 1278.0V1288.6M1646.2 59.4V50.4M1658.5 1278.0V1288.6M1658.5 59.4V50.4M227.0 1186.0H218.8M1668.5 1186.0H1678.7M227.0 1132.4H218.8M1668.5 1132.4H1678.7M227.0 1094.3H218.8M1668.5 1094.3H1678.7M227.0 1064.8H218.8M1668.5 1064.8H1678.7M227.0 1040.6H218.8M1668.5 1040.6H1678.7M227.0 1020.2H218.8M1668.5 1020.2H1678.7M227.0 1002.5H218.8M1668.5 1002.5H1678.7M227.0 986.9H218.8M1668.5 986.9H1678.7M227.0 881.2H218.8M1668.5 881.2H1678.7M227.0 827.5H218.8M1668.5 827.5H1678.7M227.0 789.4H218.8M1668.5 789.4H1678.7M227.0 759.8H218.8M1668.5 759.8H1678.7M227.0 735.7H218.8M1668.5 735.7H1678.7M227.0 715.2H218.8M1668.5 715.2H1678.7M227.0 697.6H218.8M1668.5 697.6H1678.7M227.0 682.0H218.8M1668.5 682.0H1678.7M227.0 576.0H218.8M1668.5 576.0H1678.7M227.0 522.2H218.8M1668.5 522.2H1678.7M227.0 484.1H218.8M1668.5 484.1H1678.7M227.0 454.5H218.8M1668.5 454.5H1678.7M227.0 430.3H218.8M1668.5 430.3H1678.7M227.0 409.8H218.8M1668.5 409.8H1678.7M227.0 392.1H218.8M1668.5 392.1H1678.7M227.0 376.5H218.8M1668.5 376.5H1678.7M227.0 271.3H218.8M1668.5 271.3H1678.7M227.0 217.9H218.8M1668.5 217.9H1678.7M227.0 180.0H218.8M1668.5 180.0H1678.7M227.0 150.6H218.8M1668.5 150.6H1678.7M227.0 126.6H218.8M1668.5 126.6H1678.7M227.0 106.4H218.8M1668.5 106.4H1678.7M227.0 88.8H218.8M1668.5 88.8H1678.7M227.0 73.3H218.8M1668.5 73.3H1678.7" stroke="#000" stroke-width="3.5"/>
<rect x="227.0" y="59.4" width="1441.5" height="1218.6" fill="none" stroke="#000" stroke-width="5.5" stroke-linejoin="miter"/>
<path d="M224.25 59.4H1671.25" stroke="#000" stroke-width="6.6"/>
<g font-family="'DejaVu Sans', 'Liberation Sans', sans-serif" fill="#000">
<text x="109.30 142.38" y="80.20" font-size="52.00">10</text><text x="175.97" y="59.59" font-size="36.40">4</text>
<text x="109.30 142.38" y="384.50" font-size="52.00">10</text><text x="175.97" y="363.89" font-size="36.40">3</text>
<text x="109.30 142.38" y="688.30" font-size="52.00">10</text><text x="175.97" y="667.69" font-size="36.40">2</text>
<text x="109.30 142.38" y="992.90" font-size="52.00">10</text><text x="175.97" y="972.29" font-size="36.40">1</text>
<text x="109.30 142.38" y="1299.00" font-size="52.00">10</text><text x="175.97" y="1278.39" font-size="36.40">0</text>
<text x="169.90 202.98" y="1347.10" font-size="52.00">10</text><text x="237.57 260.72" y="1327.39" font-size="36.40">14</text>
<text x="410.15 443.23" y="1347.10" font-size="52.00">10</text><text x="477.82 500.97" y="1327.39" font-size="36.40">15</text>
<text x="650.40 683.48" y="1347.10" font-size="52.00">10</text><text x="718.07 741.22" y="1327.39" font-size="36.40">16</text>
<text x="890.65 923.73" y="1347.10" font-size="52.00">10</text><text x="958.32 981.47" y="1327.39" font-size="36.40">17</text>
<text x="1130.90 1163.98" y="1347.10" font-size="52.00">10</text><text x="1198.57 1221.72" y="1327.39" font-size="36.40">18</text>
<text x="1371.15 1404.23" y="1347.10" font-size="52.00">10</text><text x="1438.82 1461.97" y="1327.39" font-size="36.40">19</text>
<text x="1611.40 1644.48" y="1347.10" font-size="52.00">10</text><text x="1679.07 1702.22" y="1327.39" font-size="36.40">20</text>
</g>
<g font-family="'DejaVu Sans', 'Liberation Sans', sans-serif" fill="#000">
<text x="752.21" y="1432.50" font-size="75.50" font-weight="bold" font-style="italic">N</text><text x="814.63" y="1447.17" font-size="52.85" font-style="italic">d</text><text x="878.04 912.55 957.30" y="1432.50" font-size="75.50" font-weight="bold" font-style="italic">(cm</text><text x="1036.70 1080.98" y="1406.41" font-size="52.85">−3</text><text x="1116.68" y="1432.50" font-size="75.50" font-weight="bold" font-style="italic">)</text>
<g transform="rotate(-90)"><text x="-847.87" y="82.95" font-size="74.40" font-weight="bold" font-style="italic">a</text><text x="-796.97 -768.35 -746.95 -732.48" y="96.09" font-size="52.08" font-style="italic">crit</text><text x="-684.15 -650.16 -597.21 -519.71" y="82.95" font-size="74.40" font-weight="bold" font-style="italic">(nm)</text></g>
</g>
<rect x="223.65" y="1045.55" width="1439.7" height="220.6" fill="#195faf" fill-opacity="0.1"/>
<clipPath id="rin"><rect x="223.65" y="1045.55" width="1439.7" height="220.6"/></clipPath>
<g clip-path="url(#rin)"><polygon points="977.9,661.3 979.4,662.6 980.8,663.8 982.2,665.0 983.7,666.2 985.0,667.4 986.4,668.5 987.8,669.7 989.1,670.8 990.4,671.9 991.7,673.0 993.0,674.1 994.3,675.2 995.5,676.3 996.8,677.3 998.0,678.4 999.2,679.4 1000.4,680.5 1001.6,681.5 1002.7,682.5 1003.9,683.5 1005.0,684.5 1006.7,685.9 1008.4,687.4 1010.0,688.8 1011.6,690.2 1013.2,691.6 1014.8,692.9 1016.3,694.3 1017.8,695.6 1019.3,696.9 1020.8,698.2 1022.2,699.5 1023.7,700.7 1025.1,702.0 1026.5,703.2 1027.9,704.4 1029.2,705.6 1030.6,706.8 1031.9,708.0 1033.2,709.2 1034.5,710.3 1035.7,711.5 1037.0,712.6 1038.2,713.7 1039.5,714.8 1040.7,715.9 1041.9,717.0 1043.1,718.0 1044.2,719.1 1045.4,720.1 1046.5,721.2 1047.7,722.2 1048.8,723.2 1049.9,724.2 1051.4,725.5 1052.8,726.8 1054.2,728.1 1055.6,729.4 1057.0,730.7 1058.4,731.9 1059.7,733.2 1061.1,734.4 1062.4,735.6 1063.7,736.8 1065.0,738.0 1066.2,739.1 1067.5,740.3 1068.7,741.4 1069.9,742.6 1071.1,743.7 1072.3,744.8 1073.5,745.9 1074.7,747.0 1075.8,748.1 1077.0,749.1 1078.1,750.2 1079.2,751.2 1080.3,752.3 1081.4,753.3 1082.7,754.6 1084.1,755.8 1085.4,757.0 1086.7,758.3 1088.0,759.5 1089.2,760.7 1090.5,761.9 1091.7,763.1 1092.9,764.2 1094.2,765.4 1095.3,766.5 1096.5,767.6 1097.7,768.8 1098.8,769.9 1100.0,771.0 1101.1,772.0 1102.2,773.1 1103.3,774.2 1104.4,775.2 1105.5,776.3 1106.8,777.5 1108.0,778.8 1109.3,780.0 1110.5,781.2 1111.8,782.4 1113.0,783.6 1114.2,784.7 1115.3,785.9 1116.5,787.0 1117.7,788.1 1118.8,789.3 1119.9,790.4 1121.0,791.5 1122.1,792.6 1123.2,793.7 1124.3,794.7 1125.4,795.8 1126.6,797.0 1127.8,798.2 1129.0,799.4 1130.2,800.6 1131.4,801.8 1132.6,802.9 1133.7,804.1 1134.9,805.2 1136.0,806.4 1137.1,807.5 1138.2,808.6 1139.3,809.7 1140.4,810.8 1141.5,811.9 1142.5,812.9 1143.7,814.2 1144.9,815.4 1146.1,816.5 1147.2,817.7 1148.4,818.9 1149.5,820.0 1150.6,821.2 1151.7,822.3 1152.8,823.4 1153.9,824.5 1155.0,825.6 1156.0,826.7 1157.1,827.8 1158.2,829.0 1159.4,830.2 1160.5,831.4 1161.7,832.5 1162.8,833.7 1163.9,834.9 1165.0,836.0 1166.1,837.1 1167.1,838.2 1168.2,839.3 1169.3,840.4 1170.3,841.5 1171.4,842.7 1172.6,843.9 1173.7,845.1 1174.8,846.2 1175.9,847.4 1177.0,848.5 1178.0,849.6 1179.1,850.8 1180.2,851.9 1181.2,853.0 1182.2,854.1 1183.3,855.3 1184.5,856.4 1185.6,857.6 1186.6,858.7 1187.7,859.9 1188.8,861.0 1189.8,862.1 1190.9,863.3 1191.9,864.4 1192.9,865.5 1194.0,866.6 1195.1,867.8 1196.2,869.0 1197.3,870.1 1198.3,871.3 1199.4,872.4 1200.4,873.5 1201.4,874.6 1202.4,875.7 1203.5,876.9 1204.6,878.1 1205.7,879.2 1206.7,880.4 1207.8,881.5 1208.8,882.6 1209.8,883.7 1210.9,884.8 1211.9,886.0 1213.0,887.2 1214.1,888.4 1215.1,889.5 1216.2,890.6 1217.2,891.8 1218.2,892.9 1219.2,894.0 1220.3,895.2 1221.3,896.3 1222.4,897.5 1223.4,898.6 1224.5,899.8 1225.5,900.9 1226.5,902.0 1227.5,903.2 1228.6,904.4 1229.6,905.5 1230.7,906.7 1231.7,907.8 1232.7,908.9 1233.7,910.0 1234.8,911.2 1235.8,912.4 1236.8,913.5 1237.9,914.7 1238.9,915.8 1239.9,916.9 1240.9,918.1 1242.0,919.3 1243.0,920.4 1244.0,921.6 1245.1,922.7 1246.1,923.9 1247.1,925.0 1248.1,926.2 1249.2,927.4 1250.2,928.5 1251.2,929.6 1252.2,930.8 1253.2,931.9 1254.3,933.1 1255.3,934.3 1256.3,935.4 1257.3,936.5 1258.3,937.7 1259.3,938.8 1260.3,940.0 1261.3,941.1 1262.3,942.3 1263.3,943.4 1264.3,944.6 1265.4,945.7 1266.4,946.9 1267.4,948.0 1268.4,949.2 1269.4,950.3 1270.4,951.5 1271.4,952.7 1272.4,953.8 1273.4,954.9 1274.4,956.1 1275.4,957.3 1276.4,958.4 1277.4,959.6 1278.4,960.7 1279.4,961.9 1280.4,963.1 1281.4,964.2 1282.4,965.3 1283.4,966.5 1284.4,967.7 1285.4,968.8 1286.4,970.0 1287.4,971.1 1288.4,972.3 1289.4,973.4 1290.4,974.6 1291.4,975.8 1292.4,976.9 1293.4,978.1 1294.3,979.2 1295.3,980.4 1296.3,981.6 1297.3,982.7 1298.3,983.9 1299.3,985.0 1300.3,986.2 1301.3,987.3 1302.2,988.5 1303.2,989.6 1304.2,990.8 1305.2,991.9 1306.2,993.1 1307.2,994.3 1308.2,995.4 1309.1,996.6 1310.1,997.7 1311.1,998.9 1312.1,1000.1 1313.1,1001.2 1314.1,1002.4 1315.0,1003.5 1316.0,1004.7 1317.0,1005.9 1318.0,1007.0 1319.0,1008.2 1319.9,1009.3 1320.9,1010.5 1321.9,1011.7 1322.9,1012.8 1323.8,1014.0 1324.8,1015.1 1325.8,1016.3 1326.8,1017.4 1327.7,1018.6 1328.7,1019.8 1329.7,1020.9 1330.6,1022.1 1331.6,1023.2 1332.6,1024.4 1333.6,1025.6 1334.5,1026.7 1335.5,1027.9 1336.5,1029.1 1337.5,1030.2 1338.4,1031.4 1339.4,1032.5 1340.4,1033.7 1341.3,1034.9 1342.3,1036.0 1343.3,1037.2 1344.2,1038.4 1345.2,1039.5 1346.2,1040.7 1347.2,1041.9 1348.1,1043.0 1349.1,1044.2 1350.0,1045.3 1351.0,1046.5 1352.0,1047.7 1353.0,1048.8 1353.9,1050.0 1354.9,1051.2 1355.9,1052.3 1356.8,1053.5 1357.8,1054.7 1358.7,1055.8 1359.7,1057.0 1360.7,1058.2 1361.6,1059.3 1362.6,1060.5 1363.6,1061.7 1364.5,1062.8 1365.5,1064.0 1366.5,1065.2 1367.4,1066.3 1368.4,1067.5 1369.3,1068.7 1370.3,1069.8 1371.3,1071.0 1372.2,1072.2 1373.2,1073.4 1374.1,1074.5 1375.1,1075.7 1376.1,1076.9 1377.0,1078.0 1378.0,1079.2 1378.9,1080.4 1379.9,1081.5 1380.9,1082.7 1381.8,1083.9 1382.8,1085.0 1383.7,1086.2 1384.7,1087.4 1385.6,1088.5 1386.6,1089.7 1387.5,1090.9 1388.5,1092.0 1389.5,1093.2 1390.4,1094.4 1391.4,1095.5 1392.3,1096.7 1393.3,1097.9 1394.2,1099.1 1395.2,1100.2 1396.1,1101.4 1397.1,1102.6 1398.0,1103.7 1399.0,1104.9 1400.0,1106.1 1400.9,1107.3 1401.9,1108.4 1402.8,1109.6 1403.8,1110.8 1404.7,1111.9 1405.7,1113.1 1406.6,1114.3 1407.6,1115.5 1408.5,1116.6 1409.5,1117.8 1410.4,1119.0 1411.4,1120.1 1412.3,1121.3 1413.3,1122.5 1414.2,1123.6 1415.2,1124.8 1416.1,1126.0 1417.1,1127.1 1418.0,1128.3 1419.0,1129.5 1419.9,1130.6 1420.9,1131.8 1421.8,1133.0 1422.8,1134.1 1423.7,1135.3 1424.7,1136.5 1425.6,1137.7 1426.6,1138.8 1427.5,1140.0 1428.5,1141.2 1429.4,1142.3 1430.4,1143.5 1431.3,1144.7 1432.3,1145.8 1433.2,1147.0 1434.2,1148.2 1435.1,1149.4 1436.1,1150.5 1437.0,1151.7 1437.9,1152.9 1438.9,1154.0 1439.8,1155.2 1440.8,1156.4 1441.7,1157.5 1442.7,1158.7 1443.6,1159.9 1444.6,1161.0 1445.5,1162.2 1446.4,1163.4 1447.4,1164.5 1448.3,1165.7 1449.3,1166.9 1450.2,1168.0 1451.2,1169.2 1452.1,1170.4 1453.1,1171.6 1454.0,1172.7 1455.0,1173.9 1455.9,1175.1 1456.8,1176.2 1457.8,1177.4 1458.7,1178.6 1459.7,1179.8 1460.6,1180.9 1461.6,1182.1 1462.5,1183.3 1463.4,1184.4 1464.4,1185.6 1465.3,1186.8 1466.3,1188.0 1467.2,1189.1 1468.2,1190.3 1469.1,1191.5 1470.0,1192.6 1471.0,1193.8 1471.9,1195.0 1472.9,1196.2 1473.8,1197.3 1474.8,1198.5 1475.7,1199.7 1476.6,1200.9 1477.6,1202.0 1478.5,1203.2 1479.5,1204.4 1480.4,1205.5 1481.3,1206.7 1482.3,1207.9 1483.2,1209.1 1484.2,1210.2 1485.1,1211.4 1486.1,1212.6 1487.0,1213.8 1487.9,1214.9 1488.9,1216.1 1489.8,1217.3 1490.8,1218.5 1491.7,1219.6 1492.6,1220.8 1493.6,1222.0 1494.5,1223.2 1495.5,1224.3 1496.4,1225.5 1497.3,1226.7 1498.3,1227.8 1499.2,1229.0 1500.2,1230.2 1501.1,1231.4 1502.0,1232.5 1503.0,1233.7 1503.9,1234.9 1504.8,1236.1 1505.8,1237.2 1506.7,1238.4 1507.7,1239.6 1508.6,1240.8 1509.5,1241.9 1510.5,1243.1 1511.4,1244.3 1512.4,1245.4 1513.3,1246.6 1514.2,1247.8 1515.2,1249.0 1516.1,1250.1 1517.0,1251.3 1518.0,1252.5 1518.9,1253.7 1519.9,1254.8 1520.8,1256.0 1521.7,1257.2 1522.7,1258.4 1523.6,1259.5 1524.5,1260.7 1525.5,1261.9 1526.4,1263.1 1527.4,1264.2 1528.3,1265.4 1529.2,1266.6 1530.2,1267.8 1531.1,1268.9 1532.0,1270.1 1533.0,1271.3 1533.9,1272.5 1534.8,1273.6 1535.8,1274.8 1536.7,1276.0 1537.7,1277.2 1538.6,1278.3 1539.5,1279.5 1540.5,1280.7 1541.4,1281.9 1542.3,1283.0 1543.3,1284.2 1544.2,1285.4 1545.1,1286.6 1546.1,1287.7 1547.0,1288.9 1547.9,1290.1 1548.9,1291.3 1549.8,1292.4 1550.7,1293.6 1551.7,1294.8 1552.6,1296.0 1553.6,1297.1 1554.5,1298.3 1555.4,1299.5 1556.4,1300.7 1557.3,1301.8 1558.2,1303.0 1559.2,1304.2 1560.1,1305.4 1561.0,1306.6 1562.0,1307.7 1562.9,1308.9 1563.8,1310.1 1564.8,1311.3 1565.7,1312.4 1566.6,1313.6 1567.6,1314.8 1568.5,1316.0 1569.4,1317.1 1570.4,1318.3 1571.3,1319.5 1572.3,1320.7 1573.2,1321.8 1574.1,1323.0 1575.1,1324.2 1576.0,1325.4 1576.9,1326.5 1577.9,1327.7 1578.8,1328.9 1579.7,1330.1 1580.7,1331.2 1581.6,1332.4 1582.5,1333.6 1583.5,1334.8 1584.4,1335.9 1585.3,1337.1 1586.3,1338.3 1587.2,1339.5 1588.1,1340.7 1589.1,1341.8 1590.0,1343.0 1590.9,1344.2 1591.8,1345.4 1592.8,1346.5 1593.7,1347.7 1594.6,1348.9 1595.6,1350.1 1596.5,1351.2 1597.4,1352.4 1598.4,1353.6 1599.3,1354.8 1600.2,1355.9 1601.2,1357.1 1602.1,1358.3 1603.0,1359.5 1604.0,1360.6 1604.9,1361.8 1605.8,1363.0 1606.8,1364.2 1607.7,1365.3 1608.6,1366.5 1609.6,1367.7 1610.5,1368.9 1611.4,1370.1 1612.4,1371.2 1613.3,1372.4 1614.2,1373.6 1615.2,1374.8 1616.1,1375.9 1617.0,1377.1 1618.0,1378.3 1618.9,1379.5 1619.8,1380.6 1620.8,1381.8 1621.7,1383.0 1622.6,1384.2 1623.5,1385.3 1624.5,1386.5 1625.4,1387.7 1626.3,1388.9 1627.3,1390.1 1628.2,1391.2 1629.1,1392.4 1630.1,1393.6 1631.0,1394.8 1631.9,1395.9 1632.9,1397.1 1633.8,1398.3 1634.7,1399.5 1635.7,1400.6 1636.6,1401.8 1637.5,1403.0 1638.5,1404.2 1639.4,1405.4 1640.3,1406.5 1641.2,1407.7 1642.2,1408.9 1643.1,1410.1 1644.0,1411.2 1645.0,1412.4 1645.9,1413.6 1646.8,1414.8 1647.8,1415.9 1648.7,1417.1 1649.6,1418.3 1650.6,1419.5 1651.5,1420.7 1652.4,1421.8 1653.4,1423.0 1654.3,1424.2 1655.2,1425.4 1656.1,1426.5 1657.1,1427.7 1658.0,1428.9 1658.9,1430.1 1659.9,1431.2 1679.0,1416.1 1678.1,1414.9 1677.1,1413.8 1676.2,1412.6 1675.3,1411.4 1674.4,1410.2 1673.4,1409.0 1672.5,1407.9 1671.6,1406.7 1670.6,1405.5 1669.7,1404.3 1668.8,1403.2 1667.8,1402.0 1666.9,1400.8 1666.0,1399.6 1665.0,1398.5 1664.1,1397.3 1663.2,1396.1 1662.2,1394.9 1661.3,1393.7 1660.4,1392.6 1659.4,1391.4 1658.5,1390.2 1657.6,1389.0 1656.7,1387.9 1655.7,1386.7 1654.8,1385.5 1653.9,1384.3 1652.9,1383.1 1652.0,1382.0 1651.1,1380.8 1650.1,1379.6 1649.2,1378.4 1648.3,1377.3 1647.3,1376.1 1646.4,1374.9 1645.5,1373.7 1644.5,1372.6 1643.6,1371.4 1642.7,1370.2 1641.7,1369.0 1640.8,1367.8 1639.9,1366.7 1638.9,1365.5 1638.0,1364.3 1637.1,1363.1 1636.1,1362.0 1635.2,1360.8 1634.3,1359.6 1633.4,1358.4 1632.4,1357.3 1631.5,1356.1 1630.6,1354.9 1629.6,1353.7 1628.7,1352.5 1627.8,1351.4 1626.8,1350.2 1625.9,1349.0 1625.0,1347.8 1624.0,1346.7 1623.1,1345.5 1622.2,1344.3 1621.2,1343.1 1620.3,1342.0 1619.4,1340.8 1618.4,1339.6 1617.5,1338.4 1616.6,1337.3 1615.6,1336.1 1614.7,1334.9 1613.8,1333.7 1612.8,1332.5 1611.9,1331.4 1611.0,1330.2 1610.0,1329.0 1609.1,1327.8 1608.2,1326.7 1607.2,1325.5 1606.3,1324.3 1605.4,1323.1 1604.4,1322.0 1603.5,1320.8 1602.6,1319.6 1601.6,1318.4 1600.7,1317.2 1599.8,1316.1 1598.8,1314.9 1597.9,1313.7 1597.0,1312.5 1596.0,1311.4 1595.1,1310.2 1594.2,1309.0 1593.2,1307.8 1592.3,1306.7 1591.4,1305.5 1590.4,1304.3 1589.5,1303.1 1588.6,1302.0 1587.6,1300.8 1586.7,1299.6 1585.7,1298.4 1584.8,1297.3 1583.9,1296.1 1582.9,1294.9 1582.0,1293.7 1581.1,1292.5 1580.1,1291.4 1579.2,1290.2 1578.3,1289.0 1577.3,1287.8 1576.4,1286.7 1575.5,1285.5 1574.5,1284.3 1573.6,1283.1 1572.6,1281.9 1571.7,1280.8 1570.8,1279.6 1569.8,1278.4 1568.9,1277.2 1568.0,1276.1 1567.0,1274.9 1566.1,1273.7 1565.2,1272.5 1564.2,1271.4 1563.3,1270.2 1562.4,1269.0 1561.4,1267.8 1560.5,1266.7 1559.5,1265.5 1558.6,1264.3 1557.7,1263.1 1556.7,1262.0 1555.8,1260.8 1554.9,1259.6 1553.9,1258.4 1553.0,1257.3 1552.1,1256.1 1551.1,1254.9 1550.2,1253.7 1549.2,1252.6 1548.3,1251.4 1547.4,1250.2 1546.4,1249.0 1545.5,1247.9 1544.6,1246.7 1543.6,1245.5 1542.7,1244.3 1541.7,1243.2 1540.8,1242.0 1539.9,1240.8 1538.9,1239.6 1538.0,1238.5 1537.1,1237.3 1536.1,1236.1 1535.2,1234.9 1534.2,1233.7 1533.3,1232.6 1532.4,1231.4 1531.4,1230.2 1530.5,1229.0 1529.5,1227.9 1528.6,1226.7 1527.7,1225.5 1526.7,1224.3 1525.8,1223.2 1524.8,1222.0 1523.9,1220.8 1523.0,1219.6 1522.0,1218.5 1521.1,1217.3 1520.1,1216.1 1519.2,1214.9 1518.3,1213.8 1517.3,1212.6 1516.4,1211.4 1515.4,1210.2 1514.5,1209.1 1513.6,1207.9 1512.6,1206.7 1511.7,1205.5 1510.7,1204.4 1509.8,1203.2 1508.9,1202.0 1507.9,1200.9 1507.0,1199.7 1506.0,1198.5 1505.1,1197.3 1504.1,1196.2 1503.2,1195.0 1502.3,1193.8 1501.3,1192.6 1500.4,1191.5 1499.4,1190.3 1498.5,1189.1 1497.5,1187.9 1496.6,1186.8 1495.7,1185.6 1494.7,1184.4 1493.8,1183.2 1492.8,1182.1 1491.9,1180.9 1490.9,1179.7 1490.0,1178.5 1489.1,1177.4 1488.1,1176.2 1487.2,1175.0 1486.2,1173.8 1485.3,1172.7 1484.3,1171.5 1483.4,1170.3 1482.5,1169.1 1481.5,1168.0 1480.6,1166.8 1479.6,1165.6 1478.7,1164.5 1477.7,1163.3 1476.8,1162.1 1475.8,1160.9 1474.9,1159.8 1473.9,1158.6 1473.0,1157.4 1472.1,1156.2 1471.1,1155.1 1470.2,1153.9 1469.2,1152.7 1468.3,1151.5 1467.3,1150.4 1466.4,1149.2 1465.4,1148.0 1464.5,1146.9 1463.5,1145.7 1462.6,1144.5 1461.6,1143.4 1460.7,1142.2 1459.8,1141.0 1458.8,1139.8 1457.9,1138.7 1456.9,1137.5 1456.0,1136.3 1455.0,1135.2 1454.1,1134.0 1453.1,1132.8 1452.2,1131.6 1451.2,1130.5 1450.3,1129.3 1449.3,1128.1 1448.4,1127.0 1447.4,1125.8 1446.5,1124.6 1445.5,1123.4 1444.6,1122.3 1443.6,1121.1 1442.7,1119.9 1441.7,1118.8 1440.8,1117.6 1439.8,1116.4 1438.9,1115.3 1437.9,1114.1 1436.9,1112.9 1436.0,1111.7 1435.0,1110.6 1434.1,1109.4 1433.1,1108.2 1432.2,1107.1 1431.2,1105.9 1430.3,1104.7 1429.3,1103.5 1428.4,1102.4 1427.4,1101.2 1426.5,1100.0 1425.5,1098.9 1424.5,1097.7 1423.6,1096.5 1422.6,1095.4 1421.7,1094.2 1420.7,1093.0 1419.7,1091.9 1418.8,1090.7 1417.8,1089.5 1416.9,1088.3 1415.9,1087.2 1414.9,1086.0 1414.0,1084.8 1413.0,1083.7 1412.0,1082.5 1411.1,1081.3 1410.1,1080.2 1409.2,1079.0 1408.2,1077.8 1407.2,1076.7 1406.3,1075.5 1405.3,1074.3 1404.3,1073.2 1403.4,1072.0 1402.4,1070.8 1401.4,1069.7 1400.5,1068.5 1399.5,1067.3 1398.5,1066.2 1397.6,1065.0 1396.6,1063.8 1395.7,1062.7 1394.7,1061.5 1393.7,1060.3 1392.7,1059.2 1391.8,1058.0 1390.8,1056.8 1389.8,1055.7 1388.9,1054.5 1387.9,1053.3 1386.9,1052.2 1386.0,1051.0 1385.0,1049.8 1384.0,1048.7 1383.0,1047.5 1382.1,1046.3 1381.1,1045.2 1380.1,1044.0 1379.1,1042.8 1378.2,1041.7 1377.2,1040.5 1376.2,1039.3 1375.2,1038.2 1374.3,1037.0 1373.3,1035.8 1372.3,1034.7 1371.4,1033.5 1370.4,1032.3 1369.4,1031.2 1368.4,1030.0 1367.4,1028.8 1366.5,1027.7 1365.5,1026.5 1364.5,1025.4 1363.5,1024.2 1362.6,1023.0 1361.6,1021.9 1360.6,1020.7 1359.6,1019.5 1358.6,1018.4 1357.7,1017.2 1356.7,1016.0 1355.7,1014.9 1354.7,1013.7 1353.7,1012.6 1352.8,1011.4 1351.8,1010.2 1350.8,1009.1 1349.8,1007.9 1348.8,1006.7 1347.9,1005.6 1346.9,1004.4 1345.9,1003.3 1344.9,1002.1 1343.9,1001.0 1342.9,999.8 1342.0,998.7 1341.0,997.5 1340.0,996.3 1339.0,995.2 1338.0,994.0 1337.0,992.9 1336.0,991.7 1335.1,990.6 1334.1,989.4 1333.1,988.2 1332.1,987.1 1331.1,985.9 1330.1,984.7 1329.1,983.6 1328.1,982.4 1327.1,981.3 1326.1,980.1 1325.1,979.0 1324.1,977.8 1323.1,976.6 1322.1,975.5 1321.1,974.3 1320.1,973.1 1319.1,972.0 1318.2,970.9 1317.2,969.7 1316.1,968.5 1315.2,967.4 1314.2,966.2 1313.2,965.1 1312.1,963.9 1311.1,962.7 1310.1,961.6 1309.1,960.4 1308.1,959.3 1307.1,958.1 1306.1,957.0 1305.1,955.8 1304.1,954.6 1303.1,953.5 1302.1,952.3 1301.1,951.2 1300.1,950.0 1299.1,948.9 1298.1,947.7 1297.1,946.6 1296.0,945.4 1295.0,944.2 1294.0,943.1 1293.0,941.9 1292.0,940.8 1290.9,939.6 1289.9,938.4 1288.9,937.3 1287.9,936.2 1286.9,935.0 1285.9,933.8 1284.9,932.7 1283.9,931.5 1282.8,930.4 1281.8,929.2 1280.8,928.0 1279.8,926.9 1278.8,925.8 1277.7,924.6 1276.7,923.5 1275.7,922.3 1274.7,921.2 1273.6,920.0 1272.6,918.9 1271.6,917.7 1270.5,916.6 1269.5,915.4 1268.5,914.2 1267.5,913.1 1266.4,912.0 1265.4,910.8 1264.3,909.6 1263.3,908.4 1262.3,907.3 1261.2,906.2 1260.2,905.0 1259.2,903.9 1258.1,902.7 1257.0,901.5 1256.0,900.4 1255.0,899.3 1254.0,898.1 1252.9,897.0 1251.9,895.8 1250.8,894.6 1249.8,893.5 1248.7,892.4 1247.7,891.2 1246.7,890.1 1245.6,888.9 1244.5,887.8 1243.5,886.6 1242.4,885.5 1241.4,884.3 1240.4,883.2 1239.3,882.1 1238.2,880.9 1237.2,879.7 1236.1,878.6 1235.0,877.4 1234.0,876.3 1233.0,875.2 1231.9,874.1 1230.8,872.9 1229.8,871.8 1228.7,870.6 1227.6,869.4 1226.5,868.3 1225.5,867.2 1224.5,866.0 1223.4,864.9 1222.3,863.8 1221.2,862.6 1220.1,861.4 1219.0,860.3 1218.0,859.2 1217.0,858.0 1215.9,856.9 1214.8,855.8 1213.8,854.7 1212.7,853.5 1211.6,852.4 1210.5,851.2 1209.3,850.0 1208.3,848.9 1207.3,847.8 1206.2,846.7 1205.1,845.6 1204.0,844.4 1203.0,843.3 1201.9,842.1 1200.7,841.0 1199.6,839.8 1198.5,838.6 1197.4,837.5 1196.4,836.4 1195.3,835.3 1194.2,834.2 1193.1,833.1 1192.0,831.9 1190.9,830.8 1189.8,829.6 1188.6,828.4 1187.5,827.2 1186.3,826.0 1185.3,825.0 1184.2,823.9 1183.1,822.8 1182.0,821.6 1180.9,820.5 1179.8,819.4 1178.7,818.2 1177.6,817.1 1176.4,815.9 1175.3,814.7 1174.1,813.5 1172.9,812.3 1171.8,811.2 1170.7,810.1 1169.6,809.0 1168.5,807.9 1167.4,806.8 1166.3,805.7 1165.2,804.5 1164.0,803.4 1162.9,802.2 1161.7,801.0 1160.5,799.9 1159.3,798.7 1158.1,797.4 1157.0,796.4 1155.9,795.3 1154.8,794.2 1153.7,793.1 1152.6,792.0 1151.4,790.9 1150.3,789.7 1149.1,788.6 1148.0,787.4 1146.8,786.3 1145.6,785.1 1144.4,783.9 1143.1,782.7 1141.9,781.5 1140.7,780.3 1139.6,779.2 1138.5,778.1 1137.3,777.1 1136.2,776.0 1135.1,774.9 1133.9,773.8 1132.8,772.6 1131.6,771.5 1130.4,770.4 1129.2,769.2 1128.0,768.0 1126.8,766.8 1125.5,765.7 1124.3,764.5 1123.0,763.2 1121.7,762.0 1120.4,760.8 1119.3,759.7 1118.2,758.7 1117.1,757.6 1115.9,756.5 1114.8,755.4 1113.6,754.3 1112.5,753.2 1111.3,752.1 1110.1,751.0 1108.9,749.8 1107.6,748.7 1106.4,747.5 1105.1,746.3 1103.9,745.2 1102.6,744.0 1101.3,742.7 1100.0,741.5 1098.6,740.3 1097.3,739.0 1095.9,737.7 1094.8,736.7 1093.7,735.7 1092.5,734.6 1091.4,733.6 1090.2,732.5 1089.0,731.4 1087.9,730.4 1086.7,729.3 1085.4,728.1 1084.2,727.0 1083.0,725.9 1081.7,724.8 1080.5,723.6 1079.2,722.4 1077.9,721.2 1076.5,720.1 1075.2,718.8 1073.9,717.6 1072.5,716.4 1071.1,715.1 1069.7,713.9 1068.3,712.6 1066.8,711.3 1065.4,710.0 1063.9,708.7 1062.7,707.7 1061.6,706.7 1060.4,705.6 1059.3,704.6 1058.1,703.6 1056.9,702.5 1055.7,701.4 1054.5,700.4 1053.2,699.3 1052.0,698.2 1050.7,697.1 1049.4,696.0 1048.1,694.8 1046.8,693.7 1045.5,692.5 1044.2,691.3 1042.8,690.2 1041.4,689.0 1040.0,687.8 1038.6,686.5 1037.1,685.3 1035.7,684.0 1034.2,682.8 1032.7,681.5 1031.2,680.2 1029.6,678.9 1028.1,677.5 1026.5,676.2 1024.9,674.8 1023.2,673.4 1021.6,672.0 1019.9,670.5 1018.1,669.1 1017.0,668.1 1015.8,667.1 1014.6,666.1 1013.4,665.1 1012.2,664.1 1011.0,663.1 1009.7,662.0 1008.5,661.0 1007.2,659.9 1005.9,658.8 1004.6,657.7 1003.3,656.6 1001.9,655.5 1000.6,654.4 999.2,653.3 997.8,652.1 996.4,650.9 995.0,649.8 993.5,648.6 992.0,647.3 990.6,646.1" fill="#008914"/><circle cx="984.2" cy="653.7" r="9.9" fill="#008914"/><polygon fill="#ff1c24" points="975.5,606.8 976.5,606.8 977.5,606.8 978.5,606.8 979.5,606.8 980.5,606.8 981.5,606.8 982.5,606.8 983.5,606.8 984.5,606.8 985.5,606.8 986.5,606.8 987.5,606.8 988.5,606.8 989.5,606.8 990.5,606.8 991.5,606.8 992.5,606.8 993.5,606.8 994.5,607.3 995.5,608.0 996.5,608.6 997.5,609.3 998.5,609.9 999.5,610.6 1000.5,611.2 1001.5,611.9 1002.5,612.5 1003.5,613.2 1004.5,613.8 1005.5,614.5 1006.5,615.1 1007.5,615.8 1008.5,616.3 1009.5,616.9 1010.5,617.6 1011.5,618.2 1012.5,618.9 1013.5,619.5 1014.5,620.2 1015.5,620.8 1016.5,621.5 1017.5,622.1 1018.5,622.8 1019.5,623.4 1020.5,624.1 1021.5,624.7 1022.5,625.4 1023.5,626.0 1024.5,626.7 1025.5,627.3 1026.5,628.0 1027.5,628.6 1028.5,629.3 1029.5,629.9 1030.5,630.6 1031.5,631.2 1032.5,631.9 1033.5,632.5 1034.5,633.2 1035.5,633.9 1036.5,634.5 1037.5,635.2 1038.5,635.8 1039.5,636.5 1040.5,637.1 1041.5,637.8 1042.5,638.3 1043.5,638.9 1044.5,639.6 1045.5,640.2 1046.5,640.9 1047.5,641.5 1048.5,642.2 1049.5,642.9 1050.5,643.5 1051.5,644.2 1052.5,644.8 1053.5,645.5 1054.5,646.1 1055.5,646.8 1056.5,647.4 1057.5,648.1 1058.5,648.8 1059.5,649.4 1060.5,650.1 1061.5,650.7 1062.5,651.4 1063.5,652.0 1064.5,652.7 1065.5,653.4 1066.5,654.0 1067.5,654.7 1068.5,655.3 1069.5,656.0 1070.5,656.6 1071.5,657.3 1072.5,658.0 1073.5,658.6 1074.5,659.3 1075.5,659.9 1076.5,660.4 1077.5,661.1 1078.5,661.7 1079.5,662.4 1080.5,663.1 1081.5,663.7 1082.5,664.4 1083.5,665.0 1084.5,665.7 1085.5,666.3 1086.5,667.0 1087.5,667.7 1088.5,668.3 1089.5,669.0 1090.5,669.6 1091.5,670.3 1092.5,671.0 1093.5,671.6 1094.5,672.3 1095.5,672.9 1096.5,673.6 1097.5,674.3 1098.5,674.9 1099.5,675.6 1100.5,676.3 1101.5,676.9 1102.5,677.6 1103.5,678.2 1104.5,678.9 1105.5,679.6 1106.5,680.2 1107.5,680.9 1108.5,681.5 1109.5,682.2 1110.5,682.9 1111.5,683.4 1112.5,684.0 1113.5,684.7 1114.5,685.4 1115.5,686.0 1116.5,686.7 1117.5,687.4 1118.5,688.0 1119.5,688.7 1120.5,689.3 1121.5,690.0 1122.5,690.7 1123.5,691.3 1124.5,692.0 1125.5,692.7 1126.5,693.3 1127.5,694.0 1128.5,694.7 1129.5,695.3 1130.5,696.0 1131.5,696.7 1132.5,697.3 1133.5,698.0 1134.5,698.7 1135.5,699.3 1136.5,700.0 1137.5,700.7 1138.5,701.3 1139.5,702.0 1140.5,702.7 1141.5,703.3 1142.5,704.0 1143.5,704.7 1144.5,705.4 1145.5,705.9 1146.5,706.5 1147.5,707.2 1148.5,707.9 1149.5,708.6 1150.5,709.2 1151.5,709.9 1152.5,710.6 1153.5,711.3 1154.5,712.0 1155.5,712.6 1156.5,713.3 1157.5,714.0 1158.5,714.7 1159.5,715.4 1160.5,716.0 1161.5,716.7 1162.5,717.4 1163.5,718.1 1164.5,718.8 1165.5,719.4 1166.5,720.1 1167.5,720.8 1168.5,721.5 1169.5,722.2 1170.5,722.8 1171.5,723.5 1172.5,724.2 1173.5,724.9 1174.5,725.6 1175.5,726.3 1176.5,726.9 1177.5,727.6 1178.5,728.3 1179.5,729.0 1180.5,729.7 1181.5,730.4 1182.5,731.0 1183.5,731.7 1184.5,732.4 1185.5,733.1 1186.5,733.8 1187.5,734.5 1188.5,735.2 1189.5,735.8 1190.5,736.5 1191.5,737.2 1192.5,737.9 1193.5,738.6 1194.5,739.3 1195.5,740.0 1196.5,740.7 1197.5,741.3 1198.5,742.0 1199.5,742.7 1200.5,743.4 1201.5,744.1 1202.5,744.8 1203.5,745.5 1204.5,746.2 1205.5,746.9 1206.5,747.6 1207.5,748.2 1208.5,748.9 1209.5,749.6 1210.5,750.3 1211.5,751.0 1212.5,751.7 1213.5,752.4 1214.5,753.1 1215.5,753.8 1216.5,754.5 1217.5,755.2 1218.5,755.9 1219.5,756.6 1220.5,757.3 1221.5,757.9 1222.5,758.6 1223.5,759.3 1224.5,760.0 1225.5,760.7 1226.5,761.4 1227.5,762.1 1228.5,762.8 1229.5,763.5 1230.5,764.2 1231.5,764.9 1232.5,765.6 1233.5,766.3 1234.5,767.0 1235.5,767.7 1236.5,768.4 1237.5,769.1 1238.5,769.8 1239.5,770.5 1240.5,771.2 1241.5,771.9 1242.5,772.6 1243.5,773.3 1244.5,774.0 1245.5,774.7 1246.5,775.4 1247.5,776.1 1248.5,776.8 1249.5,777.5 1250.5,778.2 1251.5,778.9 1252.5,779.6 1253.5,780.3 1254.5,781.0 1255.5,781.8 1256.5,782.5 1257.5,783.2 1258.5,783.9 1259.5,784.6 1260.5,785.3 1261.5,786.0 1262.5,786.7 1263.5,787.4 1264.5,788.1 1265.5,788.8 1266.5,789.5 1267.5,790.2 1268.5,791.0 1269.5,791.7 1270.5,792.4 1271.5,793.1 1272.5,793.8 1273.5,794.5 1274.5,795.2 1275.5,795.9 1276.5,796.6 1277.5,797.4 1278.5,798.1 1279.5,798.8 1280.5,799.5 1281.5,800.2 1282.5,800.9 1283.5,801.6 1284.5,802.4 1285.5,803.1 1286.5,803.8 1287.5,804.5 1288.5,805.2 1289.5,806.0 1290.5,806.7 1291.5,807.4 1292.5,808.1 1293.5,808.8 1294.5,809.5 1295.5,810.3 1296.5,811.0 1297.5,811.7 1298.5,812.4 1299.5,813.2 1300.5,813.9 1301.5,814.6 1302.5,815.3 1303.5,816.0 1304.5,816.8 1305.5,817.5 1306.5,818.2 1307.5,818.9 1308.5,819.7 1309.5,820.4 1310.5,821.1 1311.5,821.8 1312.5,822.6 1313.5,823.3 1314.5,824.0 1315.5,824.8 1316.5,825.5 1317.5,826.2 1318.5,826.9 1319.5,827.7 1320.5,828.4 1321.5,829.1 1322.5,829.9 1323.5,830.6 1324.5,831.3 1325.5,832.1 1326.5,832.8 1327.5,833.5 1328.5,834.3 1329.5,835.0 1330.5,835.7 1331.5,836.5 1332.5,837.2 1333.5,837.9 1334.5,838.7 1335.5,839.4 1336.5,840.2 1337.5,840.9 1338.5,841.6 1339.5,842.4 1340.5,843.1 1341.5,843.9 1342.5,844.6 1343.5,845.3 1344.5,846.1 1345.5,846.8 1346.5,847.6 1347.5,848.3 1348.5,849.1 1349.5,849.8 1350.5,850.5 1351.5,851.3 1352.5,852.0 1353.5,852.8 1354.5,853.5 1355.5,854.3 1356.5,855.0 1357.5,855.8 1358.5,856.5 1359.5,857.3 1360.5,858.0 1361.5,858.8 1362.5,859.5 1363.5,860.3 1364.5,861.0 1365.5,861.8 1366.5,862.5 1367.5,863.3 1368.5,864.1 1369.5,864.8 1370.5,865.6 1371.5,866.3 1372.5,867.1 1373.5,867.8 1374.5,868.6 1375.5,869.4 1376.5,870.1 1377.5,870.9 1378.5,871.6 1379.5,872.4 1380.5,873.2 1381.5,873.9 1382.5,874.7 1383.5,875.4 1384.5,876.2 1385.5,877.0 1386.5,877.7 1387.5,878.5 1388.5,879.3 1389.5,880.0 1390.5,880.8 1391.5,881.6 1392.5,882.3 1393.5,883.1 1394.5,883.9 1395.5,884.7 1396.5,885.4 1397.5,886.2 1398.5,887.0 1399.5,887.7 1400.5,888.5 1401.5,889.3 1402.5,890.1 1403.5,890.8 1404.5,891.6 1405.5,892.4 1406.5,893.2 1407.5,893.9 1408.5,894.7 1409.5,895.5 1410.5,896.3 1411.5,897.1 1412.5,897.8 1413.5,898.6 1414.5,899.4 1415.5,900.2 1416.5,901.0 1417.5,901.8 1418.5,902.6 1419.5,903.3 1420.5,904.1 1421.5,904.9 1422.5,905.7 1423.5,906.5 1424.5,907.3 1425.5,908.1 1426.5,908.9 1427.5,909.7 1428.5,910.4 1429.5,911.2 1430.5,912.0 1431.5,912.8 1432.5,913.6 1433.5,914.4 1434.5,915.2 1435.5,916.0 1436.5,916.8 1437.5,917.6 1438.5,918.4 1439.5,919.2 1440.5,920.0 1441.5,920.8 1442.5,921.6 1443.5,922.4 1444.5,923.2 1445.5,924.0 1446.5,924.8 1447.5,925.6 1448.5,926.5 1449.5,927.3 1450.5,928.1 1451.5,928.9 1452.5,929.7 1453.5,930.5 1454.5,931.3 1455.5,932.1 1456.5,932.9 1457.5,933.8 1458.5,934.6 1459.5,935.4 1460.5,936.2 1461.5,937.0 1462.5,937.8 1463.5,938.7 1464.5,939.5 1465.5,940.3 1466.5,941.1 1467.5,941.9 1468.5,942.8 1469.5,943.6 1470.5,944.4 1471.5,945.2 1472.5,946.1 1473.5,946.9 1474.5,947.7 1475.5,948.6 1476.5,949.4 1477.5,950.2 1478.5,951.0 1479.5,951.9 1480.5,952.7 1481.5,953.5 1482.5,954.4 1483.5,955.2 1484.5,956.1 1485.5,956.9 1486.5,957.7 1487.5,958.6 1488.5,959.4 1489.5,960.3 1490.5,961.1 1491.5,961.9 1492.5,962.8 1493.5,963.6 1494.5,964.5 1495.5,965.3 1496.5,966.2 1497.5,967.0 1498.5,967.9 1499.5,968.7 1500.5,969.6 1501.5,970.4 1502.5,971.3 1503.5,972.1 1504.5,973.0 1505.5,973.8 1506.5,974.7 1507.5,975.5 1508.5,976.4 1509.5,977.3 1510.5,978.1 1511.5,979.0 1512.5,979.8 1513.5,980.7 1514.5,981.6 1515.5,982.4 1516.5,983.3 1517.5,984.2 1518.5,985.0 1519.5,985.9 1520.5,986.8 1521.5,987.6 1522.5,988.5 1523.5,989.4 1524.5,990.3 1525.5,991.1 1526.5,992.0 1527.5,992.9 1528.5,993.8 1529.5,994.6 1530.5,995.5 1531.5,996.4 1532.5,997.3 1533.5,998.2 1534.5,999.0 1535.5,999.9 1536.5,1000.8 1537.5,1001.7 1538.5,1002.6 1539.5,1003.5 1540.5,1004.4 1541.5,1005.3 1542.5,1006.1 1543.5,1007.0 1544.5,1007.9 1545.5,1008.8 1546.5,1009.7 1547.5,1010.6 1548.5,1011.5 1549.5,1012.4 1550.5,1013.3 1551.5,1014.2 1552.5,1015.1 1553.5,1016.0 1554.5,1016.9 1555.5,1017.8 1556.5,1018.7 1557.5,1019.6 1558.5,1020.6 1559.5,1021.5 1560.5,1022.4 1561.5,1023.3 1562.5,1024.2 1563.5,1025.1 1564.5,1026.0 1565.5,1026.9 1566.5,1027.9 1567.5,1028.8 1568.5,1029.7 1569.5,1030.6 1570.5,1031.5 1571.5,1032.5 1572.5,1033.4 1573.5,1034.3 1574.5,1035.2 1575.5,1036.2 1576.5,1037.1 1577.5,1038.0 1578.5,1038.9 1579.5,1039.9 1580.5,1040.8 1581.5,1041.7 1582.5,1042.7 1583.5,1043.6 1584.5,1044.6 1585.5,1045.5 1586.5,1046.4 1587.5,1047.4 1588.5,1048.3 1589.5,1049.3 1590.5,1050.2 1591.5,1051.1 1592.5,1052.1 1593.5,1053.0 1594.5,1054.0 1595.5,1054.9 1596.5,1055.9 1597.5,1056.8 1598.5,1057.8 1599.5,1058.7 1600.5,1059.7 1601.5,1060.6 1602.5,1061.6 1603.5,1062.6 1604.5,1063.5 1605.5,1064.5 1606.5,1065.4 1607.5,1066.4 1608.5,1067.4 1609.5,1068.3 1610.5,1069.3 1611.5,1070.3 1612.5,1071.2 1613.5,1072.2 1614.5,1073.2 1615.5,1074.2 1616.5,1075.1 1617.5,1076.1 1618.5,1077.1 1619.5,1078.1 1620.5,1079.0 1621.5,1080.0 1622.5,1081.0 1623.5,1082.0 1624.5,1083.0 1625.5,1083.9 1626.5,1084.9 1627.5,1085.9 1628.5,1086.9 1629.5,1087.9 1630.5,1088.9 1631.5,1089.9 1632.5,1090.9 1633.5,1091.9 1634.5,1092.8 1635.5,1093.8 1636.5,1094.8 1637.5,1095.8 1638.5,1096.8 1639.5,1097.8 1640.5,1098.8 1641.5,1099.8 1642.5,1100.8 1643.5,1101.8 1644.5,1102.9 1645.5,1103.9 1646.5,1104.9 1647.5,1105.9 1648.5,1106.9 1649.5,1107.9 1650.5,1108.9 1651.5,1109.9 1652.5,1110.9 1653.5,1112.0 1654.5,1113.0 1655.5,1114.0 1656.5,1115.0 1657.5,1116.0 1658.5,1117.1 1659.5,1118.1 1660.5,1119.1 1661.5,1120.1 1662.5,1121.2 1663.5,1122.2 1664.5,1123.2 1665.5,1124.3 1666.5,1125.3 1667.5,1126.3 1668.5,1127.3 1669.5,1128.4 1670.5,1129.4 1671.5,1130.5 1672.5,1131.5 1673.5,1132.5 1674.5,1133.6 1675.5,1134.6 1676.5,1135.7 1677.5,1136.7 1678.5,1137.8 1679.5,1138.8 1680.5,1139.8 1680.5,1139.8 1679.5,1141.8 1678.5,1143.8 1677.5,1145.8 1676.5,1147.8 1675.5,1149.8 1674.5,1151.8 1673.5,1153.8 1672.5,1155.8 1671.5,1157.8 1670.5,1159.8 1669.5,1161.1 1668.5,1160.0 1667.5,1159.0 1666.5,1157.9 1665.5,1156.9 1664.5,1155.9 1663.5,1154.8 1662.5,1153.8 1661.5,1152.7 1660.5,1151.7 1659.5,1150.7 1658.5,1149.6 1657.5,1148.6 1656.5,1147.6 1655.5,1146.5 1654.5,1145.5 1653.5,1144.5 1652.5,1143.4 1651.5,1142.4 1650.5,1141.4 1649.5,1140.4 1648.5,1139.3 1647.5,1138.3 1646.5,1137.3 1645.5,1136.3 1644.5,1135.2 1643.5,1134.2 1642.5,1133.2 1641.5,1132.2 1640.5,1131.2 1639.5,1130.2 1638.5,1129.1 1637.5,1128.1 1636.5,1127.1 1635.5,1126.1 1634.5,1125.1 1633.5,1124.1 1632.5,1123.1 1631.5,1122.1 1630.5,1121.1 1629.5,1120.1 1628.5,1119.1 1627.5,1118.1 1626.5,1117.1 1625.5,1116.1 1624.5,1115.1 1623.5,1114.1 1622.5,1113.1 1621.5,1112.1 1620.5,1111.1 1619.5,1110.1 1618.5,1109.1 1617.5,1108.2 1616.5,1107.2 1615.5,1106.2 1614.5,1105.2 1613.5,1104.2 1612.5,1103.2 1611.5,1102.2 1610.5,1101.3 1609.5,1100.3 1608.5,1099.3 1607.5,1098.3 1606.5,1097.4 1605.5,1096.4 1604.5,1095.4 1603.5,1094.4 1602.5,1093.5 1601.5,1092.5 1600.5,1091.5 1599.5,1090.6 1598.5,1089.6 1597.5,1088.6 1596.5,1087.7 1595.5,1086.7 1594.5,1085.7 1593.5,1084.8 1592.5,1083.8 1591.5,1082.9 1590.5,1081.9 1589.5,1081.0 1588.5,1080.0 1587.5,1079.0 1586.5,1078.1 1585.5,1077.1 1584.5,1076.2 1583.5,1075.2 1582.5,1074.3 1581.5,1073.3 1580.5,1072.4 1579.5,1071.5 1578.5,1070.5 1577.5,1069.6 1576.5,1068.6 1575.5,1067.7 1574.5,1066.8 1573.5,1065.8 1572.5,1064.9 1571.5,1063.9 1570.5,1063.0 1569.5,1062.1 1568.5,1061.1 1567.5,1060.2 1566.5,1059.3 1565.5,1058.4 1564.5,1057.4 1563.5,1056.5 1562.5,1055.6 1561.5,1054.7 1560.5,1053.7 1559.5,1052.8 1558.5,1051.9 1557.5,1051.0 1556.5,1050.0 1555.5,1049.1 1554.5,1048.2 1553.5,1047.3 1552.5,1046.4 1551.5,1045.5 1550.5,1044.6 1549.5,1043.6 1548.5,1042.7 1547.5,1041.8 1546.5,1040.9 1545.5,1040.0 1544.5,1039.1 1543.5,1038.2 1542.5,1037.3 1541.5,1036.4 1540.5,1035.5 1539.5,1034.6 1538.5,1033.7 1537.5,1032.8 1536.5,1031.9 1535.5,1031.0 1534.5,1030.1 1533.5,1029.2 1532.5,1028.3 1531.5,1027.4 1530.5,1026.5 1529.5,1025.6 1528.5,1024.8 1527.5,1023.9 1526.5,1023.0 1525.5,1022.1 1524.5,1021.2 1523.5,1020.3 1522.5,1019.4 1521.5,1018.6 1520.5,1017.7 1519.5,1016.8 1518.5,1015.9 1517.5,1015.0 1516.5,1014.2 1515.5,1013.3 1514.5,1012.4 1513.5,1011.5 1512.5,1010.7 1511.5,1009.8 1510.5,1008.9 1509.5,1008.1 1508.5,1007.2 1507.5,1006.3 1506.5,1005.4 1505.5,1004.6 1504.5,1003.7 1503.5,1002.9 1502.5,1002.0 1501.5,1001.1 1500.5,1000.3 1499.5,999.4 1498.5,998.5 1497.5,997.7 1496.5,996.8 1495.5,996.0 1494.5,995.1 1493.5,994.3 1492.5,993.4 1491.5,992.6 1490.5,991.7 1489.5,990.8 1488.5,990.0 1487.5,989.1 1486.5,988.3 1485.5,987.5 1484.5,986.6 1483.5,985.8 1482.5,984.9 1481.5,984.1 1480.5,983.2 1479.5,982.4 1478.5,981.5 1477.5,980.7 1476.5,979.9 1475.5,979.0 1474.5,978.2 1473.5,977.3 1472.5,976.5 1471.5,975.7 1470.5,974.8 1469.5,974.0 1468.5,973.2 1467.5,972.3 1466.5,971.5 1465.5,970.7 1464.5,969.8 1463.5,969.0 1462.5,968.2 1461.5,967.4 1460.5,966.5 1459.5,965.7 1458.5,964.9 1457.5,964.1 1456.5,963.2 1455.5,962.4 1454.5,961.6 1453.5,960.8 1452.5,960.0 1451.5,959.1 1450.5,958.3 1449.5,957.5 1448.5,956.7 1447.5,955.9 1446.5,955.1 1445.5,954.2 1444.5,953.4 1443.5,952.6 1442.5,951.8 1441.5,951.0 1440.5,950.2 1439.5,949.4 1438.5,948.6 1437.5,947.8 1436.5,946.9 1435.5,946.1 1434.5,945.3 1433.5,944.5 1432.5,943.7 1431.5,942.9 1430.5,942.1 1429.5,941.3 1428.5,940.5 1427.5,939.7 1426.5,938.9 1425.5,938.1 1424.5,937.3 1423.5,936.5 1422.5,935.7 1421.5,934.9 1420.5,934.1 1419.5,933.3 1418.5,932.5 1417.5,931.8 1416.5,931.0 1415.5,930.2 1414.5,929.4 1413.5,928.6 1412.5,927.8 1411.5,927.0 1410.5,926.2 1409.5,925.4 1408.5,924.6 1407.5,923.9 1406.5,923.1 1405.5,922.3 1404.5,921.5 1403.5,920.7 1402.5,919.9 1401.5,919.2 1400.5,918.4 1399.5,917.6 1398.5,916.8 1397.5,916.0 1396.5,915.3 1395.5,914.5 1394.5,913.7 1393.5,912.9 1392.5,912.1 1391.5,911.4 1390.5,910.6 1389.5,909.8 1388.5,909.0 1387.5,908.3 1386.5,907.5 1385.5,906.7 1384.5,906.0 1383.5,905.2 1382.5,904.4 1381.5,903.6 1380.5,902.9 1379.5,902.1 1378.5,901.3 1377.5,900.6 1376.5,899.8 1375.5,899.0 1374.5,898.3 1373.5,897.5 1372.5,896.8 1371.5,896.0 1370.5,895.2 1369.5,894.5 1368.5,893.7 1367.5,892.9 1366.5,892.2 1365.5,891.4 1364.5,890.7 1363.5,889.9 1362.5,889.1 1361.5,888.4 1360.5,887.6 1359.5,886.9 1358.5,886.1 1357.5,885.4 1356.5,884.6 1355.5,883.9 1354.5,883.1 1353.5,882.3 1352.5,881.6 1351.5,880.8 1350.5,880.1 1349.5,879.3 1348.5,878.6 1347.5,877.8 1346.5,877.1 1345.5,876.3 1344.5,875.6 1343.5,874.8 1342.5,874.1 1341.5,873.4 1340.5,872.6 1339.5,871.9 1338.5,871.1 1337.5,870.4 1336.5,869.6 1335.5,868.9 1334.5,868.1 1333.5,867.4 1332.5,866.7 1331.5,865.9 1330.5,865.2 1329.5,864.4 1328.5,863.7 1327.5,863.0 1326.5,862.2 1325.5,861.5 1324.5,860.7 1323.5,860.0 1322.5,859.3 1321.5,858.5 1320.5,857.8 1319.5,857.1 1318.5,856.3 1317.5,855.6 1316.5,854.9 1315.5,854.1 1314.5,853.4 1313.5,852.6 1312.5,851.9 1311.5,851.2 1310.5,850.5 1309.5,849.7 1308.5,849.0 1307.5,848.3 1306.5,847.5 1305.5,846.8 1304.5,846.1 1303.5,845.3 1302.5,844.6 1301.5,843.9 1300.5,843.2 1299.5,842.4 1298.5,841.7 1297.5,841.0 1296.5,840.3 1295.5,839.5 1294.5,838.8 1293.5,838.1 1292.5,837.4 1291.5,836.6 1290.5,835.9 1289.5,835.2 1288.5,834.5 1287.5,833.7 1286.5,833.0 1285.5,832.3 1284.5,831.6 1283.5,830.9 1282.5,830.1 1281.5,829.4 1280.5,828.7 1279.5,828.0 1278.5,827.3 1277.5,826.6 1276.5,825.8 1275.5,825.1 1274.5,824.4 1273.5,823.7 1272.5,823.0 1271.5,822.3 1270.5,821.5 1269.5,820.8 1268.5,820.1 1267.5,819.4 1266.5,818.7 1265.5,818.0 1264.5,817.3 1263.5,816.5 1262.5,815.8 1261.5,815.1 1260.5,814.4 1259.5,813.7 1258.5,813.0 1257.5,812.3 1256.5,811.6 1255.5,810.9 1254.5,810.2 1253.5,809.4 1252.5,808.7 1251.5,808.0 1250.5,807.3 1249.5,806.6 1248.5,805.9 1247.5,805.2 1246.5,804.5 1245.5,803.8 1244.5,803.1 1243.5,802.4 1242.5,801.7 1241.5,801.0 1240.5,800.3 1239.5,799.6 1238.5,798.9 1237.5,798.1 1236.5,797.4 1235.5,796.7 1234.5,796.0 1233.5,795.3 1232.5,794.6 1231.5,793.9 1230.5,793.2 1229.5,792.5 1228.5,791.8 1227.5,791.1 1226.5,790.4 1225.5,789.7 1224.5,789.0 1223.5,788.3 1222.5,787.6 1221.5,786.9 1220.5,786.2 1219.5,785.5 1218.5,784.8 1217.5,784.1 1216.5,783.4 1215.5,782.8 1214.5,782.1 1213.5,781.4 1212.5,780.7 1211.5,780.0 1210.5,779.3 1209.5,778.6 1208.5,777.9 1207.5,777.2 1206.5,776.5 1205.5,775.8 1204.5,775.1 1203.5,774.4 1202.5,773.7 1201.5,773.0 1200.5,772.3 1199.5,771.6 1198.5,771.0 1197.5,770.3 1196.5,769.6 1195.5,768.9 1194.5,768.2 1193.5,767.5 1192.5,766.8 1191.5,766.1 1190.5,765.4 1189.5,764.7 1188.5,764.1 1187.5,763.4 1186.5,762.7 1185.5,762.0 1184.5,761.3 1183.5,760.6 1182.5,759.9 1181.5,759.2 1180.5,758.5 1179.5,757.9 1178.5,757.2 1177.5,756.5 1176.5,755.8 1175.5,755.1 1174.5,754.4 1173.5,753.7 1172.5,753.1 1171.5,752.4 1170.5,751.7 1169.5,751.0 1168.5,750.3 1167.5,749.6 1166.5,749.0 1165.5,748.3 1164.5,747.6 1163.5,746.9 1162.5,746.2 1161.5,745.5 1160.5,744.9 1159.5,744.2 1158.5,743.5 1157.5,742.8 1156.5,742.1 1155.5,741.4 1154.5,740.8 1153.5,740.1 1152.5,739.4 1151.5,738.7 1150.5,738.0 1149.5,737.4 1148.5,736.7 1147.5,736.0 1146.5,735.3 1145.5,734.6 1144.5,734.0 1143.5,733.3 1142.5,732.6 1141.5,731.9 1140.5,731.3 1139.5,730.6 1138.5,729.9 1137.5,729.2 1136.5,728.5 1135.5,727.9 1134.5,727.2 1133.5,726.5 1132.5,725.8 1131.5,725.1 1130.5,724.5 1129.5,723.8 1128.5,723.1 1127.5,722.4 1126.5,721.7 1125.5,721.0 1124.5,720.4 1123.5,719.7 1122.5,719.0 1121.5,718.3 1120.5,717.6 1119.5,717.0 1118.5,716.3 1117.5,715.6 1116.5,714.9 1115.5,714.2 1114.5,713.5 1113.5,712.9 1112.5,712.2 1111.5,711.5 1110.5,710.8 1109.5,710.2 1108.5,709.5 1107.5,708.8 1106.5,708.1 1105.5,707.4 1104.5,706.8 1103.5,706.1 1102.5,705.4 1101.5,704.7 1100.5,704.0 1099.5,703.4 1098.5,702.7 1097.5,702.0 1096.5,701.3 1095.5,700.7 1094.5,700.0 1093.5,699.3 1092.5,698.6 1091.5,698.0 1090.5,697.3 1089.5,696.6 1088.5,695.9 1087.5,695.2 1086.5,694.6 1085.5,693.9 1084.5,693.2 1083.5,692.5 1082.5,691.9 1081.5,691.2 1080.5,690.5 1079.5,689.8 1078.5,689.2 1077.5,688.5 1076.5,687.8 1075.5,687.2 1074.5,686.5 1073.5,685.8 1072.5,685.1 1071.5,684.5 1070.5,683.8 1069.5,683.1 1068.5,682.4 1067.5,681.8 1066.5,681.1 1065.5,680.4 1064.5,679.7 1063.5,679.1 1062.5,678.4 1061.5,677.7 1060.5,677.1 1059.5,676.4 1058.5,675.7 1057.5,675.0 1056.5,674.4 1055.5,673.7 1054.5,673.0 1053.5,672.4 1052.5,671.7 1051.5,671.0 1050.5,670.3 1049.5,669.7 1048.5,669.0 1047.5,668.3 1046.5,667.7 1045.5,667.0 1044.5,666.3 1043.5,665.6 1042.5,665.0 1041.5,664.3 1040.5,663.6 1039.5,663.0 1038.5,662.3 1037.5,661.6 1036.5,661.0 1035.5,660.3 1034.5,659.6 1033.5,658.9 1032.5,658.3 1031.5,657.6 1030.5,656.9 1029.5,656.3 1028.5,655.6 1027.5,654.9 1026.5,654.3 1025.5,653.6 1024.5,652.9 1023.5,652.3 1022.5,651.6 1021.5,650.9 1020.5,650.3 1019.5,649.6 1018.5,648.9 1017.5,648.3 1016.5,647.6 1015.5,646.9 1014.5,646.3 1013.5,645.6 1012.5,644.9 1011.5,644.3 1010.5,643.6 1009.5,642.9 1008.5,642.3 1007.5,641.6 1006.5,640.9 1005.5,640.3 1004.5,639.6 1003.5,638.9 1002.5,638.3 1001.5,637.6 1000.5,636.9 999.5,636.3 998.5,635.6 997.5,634.9 996.5,634.3 995.5,633.6 994.5,632.9 993.5,632.3 992.5,631.6 991.5,630.9 990.5,630.3 989.5,629.6 988.5,629.0 987.5,628.3 986.5,627.6 985.5,627.0 984.5,626.3 983.5,624.8 982.5,622.8 981.5,620.8 980.5,618.8 979.5,616.8 978.5,614.8 977.5,612.8 976.5,610.8 975.5,608.8"/></g>
<rect x="223.65" y="1045.55" width="1439.7" height="220.6" fill="none" stroke="#07619a" stroke-width="9.3"/>
<path d="M934.3 611.2H961.1L972.3 634.4L961.1 661.0H934.3L923.1 634.4Z" fill="#fff" stroke="#000" stroke-width="6.2" stroke-linejoin="miter"/>
<path d="M947.3 617.2L962.7 648H932.2Z" fill="#000"/>
<path d="M1128.4 766.4L1149.4 808.2H1107.7Z" fill="#000"/>
<path d="M1100.2 815.3H1140.4L1120.5 857.1Z" fill="#000"/>
<path d="M1171.0 820.6H1195.4L1203.0 839.4L1195.4 860.0H1171.0L1163.4 839.4Z" fill="#fff" stroke="#000" stroke-width="5.0" stroke-linejoin="miter"/>
<path d="M1175.0 826.1H1190.2L1196.2 840.3L1190.2 854.5H1175.0L1169.0 840.3Z" fill="#000"/>
<circle cx="1365.4" cy="874.9" r="17.6" fill="#fff" stroke="#000" stroke-width="5.2"/>
<circle cx="1420.8" cy="920.5" r="17.6" fill="#fff" stroke="#000" stroke-width="5.2"/>
<path d="M1367.3 1049.5L1382.8999999999999 1075.9H1372.8999999999999V1235.2H1382.8999999999999L1367.3 1266.2L1351.7 1235.2H1361.7V1075.9H1351.7Z" fill="#001a5f"/>
<path d="M1567.5 1048.5L1582.9 1078.7H1572.9V1237.8H1582.9L1567.5 1270.0L1552.1 1237.8H1562.1V1078.7H1552.1Z" fill="#d800a4"/>
<path d="M1346.2 981.3H1382.7L1364.5 1016Z" fill="#000"/>
<path d="M1355.5 1015.9H1376.7L1383.9 1034.0L1376.7 1051.6H1355.5L1348.3 1034.0Z" fill="#000"/>
<polygon points="1661.5,1100.5 1668.2,1120.5 1688.7,1120.9 1672.4,1133.6 1678.3,1153.9 1661.5,1141.8 1644.7,1153.9 1650.6,1133.6 1634.3,1120.9 1654.8,1120.5" fill="#000"/>
<text transform="translate(566 1208.8) scale(1 0.945)" x="0" y="0" font-family="Carlito, 'Liberation Sans', sans-serif" font-weight="bold" font-size="65" textLength="553" lengthAdjust="spacingAndGlyphs" fill="#0a0a0a">Surface effect region</text>
</svg>
</body></html>
